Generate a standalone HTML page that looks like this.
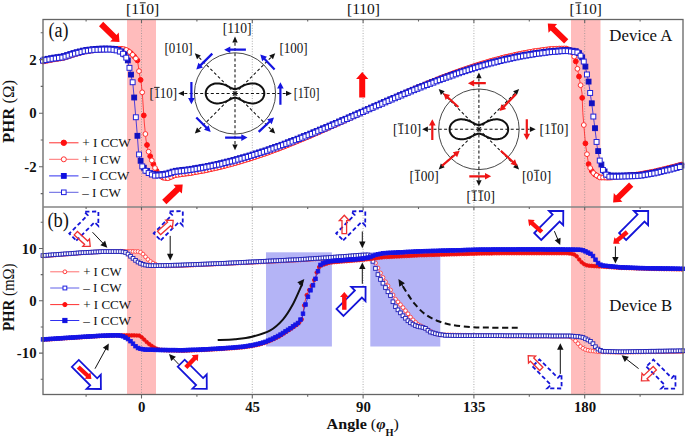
<!DOCTYPE html>
<html><head><meta charset="utf-8"><style>html,body{margin:0;padding:0;background:#fff;overflow:hidden}svg{display:block}text{font-family:"Liberation Serif",serif}</style></head>
<body><svg width="685" height="438" viewBox="0 0 685 438">
<rect x="0" y="0" width="685" height="438" fill="#fff"/>
<rect x="127" y="20" width="29" height="374" fill="#ffbcbc"/>
<rect x="571" y="20" width="29.5" height="374" fill="#ffbcbc"/>
<rect x="266" y="252.3" width="65.9" height="94.2" fill="#b4b4f6"/>
<rect x="370.3" y="252.3" width="70" height="94.2" fill="#b4b4f6"/>
<line x1="141.5" y1="20" x2="141.5" y2="394" stroke="#8a8a8a" stroke-width="0.7" stroke-dasharray="1,1.6"/>
<line x1="252.3" y1="20" x2="252.3" y2="394" stroke="#8a8a8a" stroke-width="0.7" stroke-dasharray="1,1.6"/>
<line x1="363.1" y1="20" x2="363.1" y2="394" stroke="#8a8a8a" stroke-width="0.7" stroke-dasharray="1,1.6"/>
<line x1="473.9" y1="20" x2="473.9" y2="394" stroke="#8a8a8a" stroke-width="0.7" stroke-dasharray="1,1.6"/>
<line x1="584.7" y1="20" x2="584.7" y2="394" stroke="#8a8a8a" stroke-width="0.7" stroke-dasharray="1,1.6"/>
<polyline points="43,61.5 53,59.5 63,58 74,54.4 85,51.5 95,50 105,49.3 111,49 120,48.8 124,49.2 127,50.2 130.4,52.6 134.4,56.6 137.6,60.6 139.2,72.6 141.2,83 142.4,94.1 144.3,123 146,140 148,150 151,158.5 155,168 158,173.5 162.5,177.5 168,178.2 175,175.1 190,173.1 205,170.4 220,167.1 235,163.1 250,158.6 265,153.6 280,148.1 295,142.1 310,135.9 325,129.3 340,122.6 355,115.7 370,108.8 385,102 400,95.2 415,88.7 430,82.4 445,76.4 460,70.9 475,65.8 490,61.2 505,57.2 520,53.9 535,51.1 550,49.1 560,48.6 566,48.5 570,50 573,53 576,62 579.2,77.5 582,93 582.8,112.5 583.8,125 585.5,144.5 588.5,163.9 591,170 594.2,174 600,177.5 610,177.6 620,176.3 630,175.3 640,174.2 655,171.3 670,167.7 683,164.2" fill="none" stroke="#ff2020" stroke-width="0.8"/><g fill="#ff1010" stroke="#ff1010" stroke-width="1.0"><circle cx="44.6" cy="61.2" r="2.4"/><circle cx="47.8" cy="60.5" r="2.4"/><circle cx="51" cy="59.9" r="2.4"/><circle cx="54.2" cy="59.3" r="2.4"/><circle cx="57.4" cy="58.8" r="2.4"/><circle cx="60.6" cy="58.4" r="2.4"/><circle cx="63.8" cy="57.7" r="2.4"/><circle cx="67" cy="56.7" r="2.4"/><circle cx="70.2" cy="55.6" r="2.4"/><circle cx="73.4" cy="54.6" r="2.4"/><circle cx="76.6" cy="53.7" r="2.4"/><circle cx="79.8" cy="52.9" r="2.4"/><circle cx="83" cy="52" r="2.4"/><circle cx="86.2" cy="51.3" r="2.4"/><circle cx="89.4" cy="50.8" r="2.4"/><circle cx="92.6" cy="50.4" r="2.4"/><circle cx="95.8" cy="49.9" r="2.4"/><circle cx="99" cy="49.7" r="2.4"/><circle cx="102.2" cy="49.5" r="2.4"/><circle cx="105.4" cy="49.3" r="2.4"/><circle cx="108.6" cy="49.1" r="2.4"/><circle cx="111.8" cy="49" r="2.4"/><circle cx="115" cy="48.9" r="2.4"/><circle cx="118.2" cy="48.8" r="2.4"/><circle cx="121.4" cy="48.9" r="2.4"/><circle cx="124.6" cy="49.4" r="2.4"/><circle cx="127.8" cy="50.8" r="2.4"/><circle cx="131" cy="53.2" r="2.4"/><circle cx="134.2" cy="56.4" r="2.4"/><circle cx="137.4" cy="60.4" r="2.4"/><circle cx="140.6" cy="79.9" r="2.4"/><circle cx="143.8" cy="115.4" r="2.4"/><circle cx="147" cy="145" r="2.4"/><circle cx="150.2" cy="156.2" r="2.4"/><circle cx="153.4" cy="164.2" r="2.4"/><circle cx="156.6" cy="170.9" r="2.4"/><circle cx="159.8" cy="175.1" r="2.4"/><circle cx="163" cy="177.6" r="2.4"/><circle cx="166.2" cy="178" r="2.4"/><circle cx="169.4" cy="177.6" r="2.4"/><circle cx="172.6" cy="176.2" r="2.4"/><circle cx="175.8" cy="175" r="2.4"/><circle cx="179" cy="174.6" r="2.4"/><circle cx="182.2" cy="174.1" r="2.4"/><circle cx="185.4" cy="173.7" r="2.4"/><circle cx="188.6" cy="173.3" r="2.4"/><circle cx="191.8" cy="172.8" r="2.4"/><circle cx="195" cy="172.2" r="2.4"/><circle cx="198.2" cy="171.6" r="2.4"/><circle cx="201.4" cy="171" r="2.4"/><circle cx="204.6" cy="170.5" r="2.4"/><circle cx="207.8" cy="169.8" r="2.4"/><circle cx="211" cy="169.1" r="2.4"/><circle cx="214.2" cy="168.4" r="2.4"/><circle cx="217.4" cy="167.7" r="2.4"/><circle cx="220.6" cy="166.9" r="2.4"/><circle cx="223.8" cy="166.1" r="2.4"/><circle cx="227" cy="165.2" r="2.4"/><circle cx="230.2" cy="164.4" r="2.4"/><circle cx="233.4" cy="163.5" r="2.4"/><circle cx="236.6" cy="162.6" r="2.4"/><circle cx="239.8" cy="161.7" r="2.4"/><circle cx="243" cy="160.7" r="2.4"/><circle cx="246.2" cy="159.7" r="2.4"/><circle cx="249.4" cy="158.8" r="2.4"/><circle cx="252.6" cy="157.7" r="2.4"/><circle cx="255.8" cy="156.7" r="2.4"/><circle cx="259" cy="155.6" r="2.4"/><circle cx="262.2" cy="154.5" r="2.4"/><circle cx="265.4" cy="153.5" r="2.4"/><circle cx="268.6" cy="152.3" r="2.4"/><circle cx="271.8" cy="151.1" r="2.4"/><circle cx="275" cy="149.9" r="2.4"/><circle cx="278.2" cy="148.8" r="2.4"/><circle cx="281.4" cy="147.5" r="2.4"/><circle cx="284.6" cy="146.3" r="2.4"/><circle cx="287.8" cy="145" r="2.4"/><circle cx="291" cy="143.7" r="2.4"/><circle cx="294.2" cy="142.4" r="2.4"/><circle cx="297.4" cy="141.1" r="2.4"/><circle cx="300.6" cy="139.8" r="2.4"/><circle cx="303.8" cy="138.5" r="2.4"/><circle cx="307" cy="137.1" r="2.4"/><circle cx="310.2" cy="135.8" r="2.4"/><circle cx="313.4" cy="134.4" r="2.4"/><circle cx="316.6" cy="133" r="2.4"/><circle cx="319.8" cy="131.6" r="2.4"/><circle cx="323" cy="130.2" r="2.4"/><circle cx="326.2" cy="128.8" r="2.4"/><circle cx="329.4" cy="127.3" r="2.4"/><circle cx="332.6" cy="125.9" r="2.4"/><circle cx="335.8" cy="124.5" r="2.4"/><circle cx="339" cy="123" r="2.4"/><circle cx="342.2" cy="121.6" r="2.4"/><circle cx="345.4" cy="120.1" r="2.4"/><circle cx="348.6" cy="118.6" r="2.4"/><circle cx="351.8" cy="117.2" r="2.4"/><circle cx="355" cy="115.7" r="2.4"/><circle cx="358.2" cy="114.2" r="2.4"/><circle cx="361.4" cy="112.8" r="2.4"/><circle cx="364.6" cy="111.3" r="2.4"/><circle cx="367.8" cy="109.8" r="2.4"/><circle cx="371" cy="108.3" r="2.4"/><circle cx="374.2" cy="106.9" r="2.4"/><circle cx="377.4" cy="105.4" r="2.4"/><circle cx="380.6" cy="104" r="2.4"/><circle cx="383.8" cy="102.5" r="2.4"/><circle cx="387" cy="101.1" r="2.4"/><circle cx="390.2" cy="99.6" r="2.4"/><circle cx="393.4" cy="98.2" r="2.4"/><circle cx="396.6" cy="96.7" r="2.4"/><circle cx="399.8" cy="95.3" r="2.4"/><circle cx="403" cy="93.9" r="2.4"/><circle cx="406.2" cy="92.5" r="2.4"/><circle cx="409.4" cy="91.1" r="2.4"/><circle cx="412.6" cy="89.7" r="2.4"/><circle cx="415.8" cy="88.4" r="2.4"/><circle cx="419" cy="87" r="2.4"/><circle cx="422.2" cy="85.7" r="2.4"/><circle cx="425.4" cy="84.3" r="2.4"/><circle cx="428.6" cy="83" r="2.4"/><circle cx="431.8" cy="81.7" r="2.4"/><circle cx="435" cy="80.4" r="2.4"/><circle cx="438.2" cy="79.1" r="2.4"/><circle cx="441.4" cy="77.8" r="2.4"/><circle cx="444.6" cy="76.6" r="2.4"/><circle cx="447.8" cy="75.4" r="2.4"/><circle cx="451" cy="74.2" r="2.4"/><circle cx="454.2" cy="73" r="2.4"/><circle cx="457.4" cy="71.9" r="2.4"/><circle cx="460.6" cy="70.7" r="2.4"/><circle cx="463.8" cy="69.6" r="2.4"/><circle cx="467" cy="68.5" r="2.4"/><circle cx="470.2" cy="67.4" r="2.4"/><circle cx="473.4" cy="66.3" r="2.4"/><circle cx="476.6" cy="65.3" r="2.4"/><circle cx="479.8" cy="64.3" r="2.4"/><circle cx="483" cy="63.3" r="2.4"/><circle cx="486.2" cy="62.4" r="2.4"/><circle cx="489.4" cy="61.4" r="2.4"/><circle cx="492.6" cy="60.5" r="2.4"/><circle cx="495.8" cy="59.7" r="2.4"/><circle cx="499" cy="58.8" r="2.4"/><circle cx="502.2" cy="57.9" r="2.4"/><circle cx="505.4" cy="57.1" r="2.4"/><circle cx="508.6" cy="56.4" r="2.4"/><circle cx="511.8" cy="55.7" r="2.4"/><circle cx="515" cy="55" r="2.4"/><circle cx="518.2" cy="54.3" r="2.4"/><circle cx="521.4" cy="53.6" r="2.4"/><circle cx="524.6" cy="53" r="2.4"/><circle cx="527.8" cy="52.4" r="2.4"/><circle cx="531" cy="51.8" r="2.4"/><circle cx="534.2" cy="51.2" r="2.4"/><circle cx="537.4" cy="50.8" r="2.4"/><circle cx="540.6" cy="50.4" r="2.4"/><circle cx="543.8" cy="49.9" r="2.4"/><circle cx="547" cy="49.5" r="2.4"/><circle cx="550.2" cy="49.1" r="2.4"/><circle cx="553.4" cy="48.9" r="2.4"/><circle cx="556.6" cy="48.8" r="2.4"/><circle cx="559.8" cy="48.6" r="2.4"/><circle cx="563" cy="48.6" r="2.4"/><circle cx="566.2" cy="48.6" r="2.4"/><circle cx="569.4" cy="49.8" r="2.4"/><circle cx="572.6" cy="52.6" r="2.4"/><circle cx="575.8" cy="61.4" r="2.4"/><circle cx="579" cy="76.5" r="2.4"/><circle cx="582.2" cy="97.9" r="2.4"/><circle cx="585.4" cy="143.4" r="2.4"/><circle cx="588.6" cy="164.1" r="2.4"/><circle cx="591.8" cy="171" r="2.4"/><circle cx="595" cy="174.5" r="2.4"/><circle cx="598.2" cy="176.4" r="2.4"/><circle cx="601.4" cy="177.5" r="2.4"/><circle cx="604.6" cy="177.5" r="2.4"/><circle cx="607.8" cy="177.6" r="2.4"/><circle cx="611" cy="177.5" r="2.4"/><circle cx="614.2" cy="177.1" r="2.4"/><circle cx="617.4" cy="176.6" r="2.4"/><circle cx="620.6" cy="176.2" r="2.4"/><circle cx="623.8" cy="175.9" r="2.4"/><circle cx="627" cy="175.6" r="2.4"/><circle cx="630.2" cy="175.3" r="2.4"/><circle cx="633.4" cy="174.9" r="2.4"/><circle cx="636.6" cy="174.6" r="2.4"/><circle cx="639.8" cy="174.2" r="2.4"/><circle cx="643" cy="173.6" r="2.4"/><circle cx="646.2" cy="173" r="2.4"/><circle cx="649.4" cy="172.4" r="2.4"/><circle cx="652.6" cy="171.8" r="2.4"/><circle cx="655.8" cy="171.1" r="2.4"/><circle cx="659" cy="170.3" r="2.4"/><circle cx="662.2" cy="169.6" r="2.4"/><circle cx="665.4" cy="168.8" r="2.4"/><circle cx="668.6" cy="168" r="2.4"/><circle cx="671.8" cy="167.2" r="2.4"/><circle cx="675" cy="166.4" r="2.4"/><circle cx="678.2" cy="165.5" r="2.4"/><circle cx="681.4" cy="164.6" r="2.4"/></g>
<g fill="#fff" stroke="#ff3030" stroke-width="1.0"><circle cx="43" cy="61.5" r="2.4"/><circle cx="46.2" cy="60.9" r="2.4"/><circle cx="49.4" cy="60.2" r="2.4"/><circle cx="52.6" cy="59.6" r="2.4"/><circle cx="55.8" cy="59.1" r="2.4"/><circle cx="59" cy="58.6" r="2.4"/><circle cx="62.2" cy="58.1" r="2.4"/><circle cx="65.4" cy="57.2" r="2.4"/><circle cx="68.6" cy="56.2" r="2.4"/><circle cx="71.8" cy="55.1" r="2.4"/><circle cx="75" cy="54.1" r="2.4"/><circle cx="78.2" cy="53.3" r="2.4"/><circle cx="81.4" cy="52.4" r="2.4"/><circle cx="84.6" cy="51.6" r="2.4"/><circle cx="87.8" cy="51.1" r="2.4"/><circle cx="91" cy="50.6" r="2.4"/><circle cx="94.2" cy="50.1" r="2.4"/><circle cx="97.4" cy="49.8" r="2.4"/><circle cx="100.6" cy="49.6" r="2.4"/><circle cx="103.8" cy="49.4" r="2.4"/><circle cx="107" cy="49.2" r="2.4"/><circle cx="110.2" cy="49" r="2.4"/><circle cx="113.4" cy="48.9" r="2.4"/><circle cx="116.6" cy="48.9" r="2.4"/><circle cx="119.8" cy="48.8" r="2.4"/><circle cx="123" cy="49.1" r="2.4"/><circle cx="126.2" cy="49.9" r="2.4"/><circle cx="129.4" cy="51.9" r="2.4"/><circle cx="132.6" cy="54.8" r="2.4"/><circle cx="135.8" cy="58.4" r="2.4"/><circle cx="139" cy="71.1" r="2.4"/><circle cx="142.2" cy="92.3" r="2.4"/><circle cx="145.4" cy="134" r="2.4"/><circle cx="148.6" cy="151.7" r="2.4"/><circle cx="151.8" cy="160.4" r="2.4"/><circle cx="155" cy="168" r="2.4"/><circle cx="158.2" cy="173.7" r="2.4"/><circle cx="161.4" cy="176.5" r="2.4"/><circle cx="164.6" cy="177.8" r="2.4"/><circle cx="167.8" cy="178.2" r="2.4"/><circle cx="171" cy="176.9" r="2.4"/><circle cx="174.2" cy="175.5" r="2.4"/><circle cx="177.4" cy="174.8" r="2.4"/><circle cx="180.6" cy="174.4" r="2.4"/><circle cx="183.8" cy="173.9" r="2.4"/><circle cx="187" cy="173.5" r="2.4"/><circle cx="190.2" cy="173.1" r="2.4"/><circle cx="193.4" cy="172.5" r="2.4"/><circle cx="196.6" cy="171.9" r="2.4"/><circle cx="199.8" cy="171.3" r="2.4"/><circle cx="203" cy="170.8" r="2.4"/><circle cx="206.2" cy="170.1" r="2.4"/><circle cx="209.4" cy="169.4" r="2.4"/><circle cx="212.6" cy="168.7" r="2.4"/><circle cx="215.8" cy="168" r="2.4"/><circle cx="219" cy="167.3" r="2.4"/><circle cx="222.2" cy="166.5" r="2.4"/><circle cx="225.4" cy="165.7" r="2.4"/><circle cx="228.6" cy="164.8" r="2.4"/><circle cx="231.8" cy="164" r="2.4"/><circle cx="235" cy="163.1" r="2.4"/><circle cx="238.2" cy="162.1" r="2.4"/><circle cx="241.4" cy="161.2" r="2.4"/><circle cx="244.6" cy="160.2" r="2.4"/><circle cx="247.8" cy="159.3" r="2.4"/><circle cx="251" cy="158.3" r="2.4"/><circle cx="254.2" cy="157.2" r="2.4"/><circle cx="257.4" cy="156.1" r="2.4"/><circle cx="260.6" cy="155.1" r="2.4"/><circle cx="263.8" cy="154" r="2.4"/><circle cx="267" cy="152.9" r="2.4"/><circle cx="270.2" cy="151.7" r="2.4"/><circle cx="273.4" cy="150.5" r="2.4"/><circle cx="276.6" cy="149.3" r="2.4"/><circle cx="279.8" cy="148.2" r="2.4"/><circle cx="283" cy="146.9" r="2.4"/><circle cx="286.2" cy="145.6" r="2.4"/><circle cx="289.4" cy="144.3" r="2.4"/><circle cx="292.6" cy="143.1" r="2.4"/><circle cx="295.8" cy="141.8" r="2.4"/><circle cx="299" cy="140.4" r="2.4"/><circle cx="302.2" cy="139.1" r="2.4"/><circle cx="305.4" cy="137.8" r="2.4"/><circle cx="308.6" cy="136.5" r="2.4"/><circle cx="311.8" cy="135.1" r="2.4"/><circle cx="315" cy="133.7" r="2.4"/><circle cx="318.2" cy="132.3" r="2.4"/><circle cx="321.4" cy="130.9" r="2.4"/><circle cx="324.6" cy="129.5" r="2.4"/><circle cx="327.8" cy="128" r="2.4"/><circle cx="331" cy="126.6" r="2.4"/><circle cx="334.2" cy="125.2" r="2.4"/><circle cx="337.4" cy="123.8" r="2.4"/><circle cx="340.6" cy="122.3" r="2.4"/><circle cx="343.8" cy="120.9" r="2.4"/><circle cx="347" cy="119.4" r="2.4"/><circle cx="350.2" cy="117.9" r="2.4"/><circle cx="353.4" cy="116.4" r="2.4"/><circle cx="356.6" cy="115" r="2.4"/><circle cx="359.8" cy="113.5" r="2.4"/><circle cx="363" cy="112" r="2.4"/><circle cx="366.2" cy="110.5" r="2.4"/><circle cx="369.4" cy="109.1" r="2.4"/><circle cx="372.6" cy="107.6" r="2.4"/><circle cx="375.8" cy="106.2" r="2.4"/><circle cx="379" cy="104.7" r="2.4"/><circle cx="382.2" cy="103.3" r="2.4"/><circle cx="385.4" cy="101.8" r="2.4"/><circle cx="388.6" cy="100.4" r="2.4"/><circle cx="391.8" cy="98.9" r="2.4"/><circle cx="395" cy="97.5" r="2.4"/><circle cx="398.2" cy="96" r="2.4"/><circle cx="401.4" cy="94.6" r="2.4"/><circle cx="404.6" cy="93.2" r="2.4"/><circle cx="407.8" cy="91.8" r="2.4"/><circle cx="411" cy="90.4" r="2.4"/><circle cx="414.2" cy="89" r="2.4"/><circle cx="417.4" cy="87.7" r="2.4"/><circle cx="420.6" cy="86.3" r="2.4"/><circle cx="423.8" cy="85" r="2.4"/><circle cx="427" cy="83.7" r="2.4"/><circle cx="430.2" cy="82.3" r="2.4"/><circle cx="433.4" cy="81" r="2.4"/><circle cx="436.6" cy="79.8" r="2.4"/><circle cx="439.8" cy="78.5" r="2.4"/><circle cx="443" cy="77.2" r="2.4"/><circle cx="446.2" cy="76" r="2.4"/><circle cx="449.4" cy="74.8" r="2.4"/><circle cx="452.6" cy="73.6" r="2.4"/><circle cx="455.8" cy="72.4" r="2.4"/><circle cx="459" cy="71.3" r="2.4"/><circle cx="462.2" cy="70.2" r="2.4"/><circle cx="465.4" cy="69.1" r="2.4"/><circle cx="468.6" cy="68" r="2.4"/><circle cx="471.8" cy="66.9" r="2.4"/><circle cx="475" cy="65.8" r="2.4"/><circle cx="478.2" cy="64.8" r="2.4"/><circle cx="481.4" cy="63.8" r="2.4"/><circle cx="484.6" cy="62.9" r="2.4"/><circle cx="487.8" cy="61.9" r="2.4"/><circle cx="491" cy="60.9" r="2.4"/><circle cx="494.2" cy="60.1" r="2.4"/><circle cx="497.4" cy="59.2" r="2.4"/><circle cx="500.6" cy="58.4" r="2.4"/><circle cx="503.8" cy="57.5" r="2.4"/><circle cx="507" cy="56.8" r="2.4"/><circle cx="510.2" cy="56.1" r="2.4"/><circle cx="513.4" cy="55.4" r="2.4"/><circle cx="516.6" cy="54.6" r="2.4"/><circle cx="519.8" cy="53.9" r="2.4"/><circle cx="523" cy="53.3" r="2.4"/><circle cx="526.2" cy="52.7" r="2.4"/><circle cx="529.4" cy="52.1" r="2.4"/><circle cx="532.6" cy="51.5" r="2.4"/><circle cx="535.8" cy="51" r="2.4"/><circle cx="539" cy="50.6" r="2.4"/><circle cx="542.2" cy="50.1" r="2.4"/><circle cx="545.4" cy="49.7" r="2.4"/><circle cx="548.6" cy="49.3" r="2.4"/><circle cx="551.8" cy="49" r="2.4"/><circle cx="555" cy="48.9" r="2.4"/><circle cx="558.2" cy="48.7" r="2.4"/><circle cx="561.4" cy="48.6" r="2.4"/><circle cx="564.6" cy="48.5" r="2.4"/><circle cx="567.8" cy="49.2" r="2.4"/><circle cx="571" cy="51" r="2.4"/><circle cx="574.2" cy="56.6" r="2.4"/><circle cx="577.4" cy="68.8" r="2.4"/><circle cx="580.6" cy="85.2" r="2.4"/><circle cx="583.8" cy="125" r="2.4"/><circle cx="587" cy="154.2" r="2.4"/><circle cx="590.2" cy="168" r="2.4"/><circle cx="593.4" cy="173" r="2.4"/><circle cx="596.6" cy="175.4" r="2.4"/><circle cx="599.8" cy="177.4" r="2.4"/><circle cx="603" cy="177.5" r="2.4"/><circle cx="606.2" cy="177.6" r="2.4"/><circle cx="609.4" cy="177.6" r="2.4"/><circle cx="612.6" cy="177.3" r="2.4"/><circle cx="615.8" cy="176.8" r="2.4"/><circle cx="619" cy="176.4" r="2.4"/><circle cx="622.2" cy="176.1" r="2.4"/><circle cx="625.4" cy="175.8" r="2.4"/><circle cx="628.6" cy="175.4" r="2.4"/><circle cx="631.8" cy="175.1" r="2.4"/><circle cx="635" cy="174.8" r="2.4"/><circle cx="638.2" cy="174.4" r="2.4"/><circle cx="641.4" cy="173.9" r="2.4"/><circle cx="644.6" cy="173.3" r="2.4"/><circle cx="647.8" cy="172.7" r="2.4"/><circle cx="651" cy="172.1" r="2.4"/><circle cx="654.2" cy="171.5" r="2.4"/><circle cx="657.4" cy="170.7" r="2.4"/><circle cx="660.6" cy="170" r="2.4"/><circle cx="663.8" cy="169.2" r="2.4"/><circle cx="667" cy="168.4" r="2.4"/><circle cx="670.2" cy="167.6" r="2.4"/><circle cx="673.4" cy="166.8" r="2.4"/><circle cx="676.6" cy="165.9" r="2.4"/><circle cx="679.8" cy="165.1" r="2.4"/></g>
<polyline points="43,60.7 53,58.8 63,57.4 74,53.9 85,51.1 95,49.9 105,49.5 111,49.6 115,50 118,50.8 120,51.6 122,52.8 124,54.6 127.2,59 129.6,68.6 131.2,76.6 132.8,83 133.9,95 135,108 136.3,123 137.5,138 138.5,151.7 140,160 142,166 145,170.5 150,174 155,175.6 160,175.4 167,174.4 175,171.9 190,170.1 205,167.5 220,164.4 235,160.6 250,156.3 265,151.5 280,146.3 295,140.6 310,134.7 325,128.5 340,122.1 355,115.6 370,109 385,102.5 400,96.1 415,89.8 430,83.9 445,78.2 460,72.9 475,68.1 490,63.7 505,60 520,56.7 535,54.2 550,52.2 565,51 568,51.2 572,51.6 577.4,52.5 581,56 584,62 586,70 587.8,78 589.3,86.6 592,105.7 594.2,122.8 597.2,146.8 600,161.6 603,170 606,174.5 609,176.6 620,176.6 630,176.3 640,175.9 655,173.3 670,169.7 683,166.2" fill="none" stroke="#2020e0" stroke-width="0.8"/><g fill="#1010c0" stroke="#1010c0" stroke-width="1.0"><rect x="42.2" y="57" width="4.8" height="4.8"/><rect x="45.4" y="56.4" width="4.8" height="4.8"/><rect x="48.6" y="55.8" width="4.8" height="4.8"/><rect x="51.8" y="55.2" width="4.8" height="4.8"/><rect x="55" y="54.8" width="4.8" height="4.8"/><rect x="58.2" y="54.3" width="4.8" height="4.8"/><rect x="61.4" y="53.7" width="4.8" height="4.8"/><rect x="64.6" y="52.7" width="4.8" height="4.8"/><rect x="67.8" y="51.7" width="4.8" height="4.8"/><rect x="71" y="50.7" width="4.8" height="4.8"/><rect x="74.2" y="49.8" width="4.8" height="4.8"/><rect x="77.4" y="49" width="4.8" height="4.8"/><rect x="80.6" y="48.2" width="4.8" height="4.8"/><rect x="83.8" y="47.6" width="4.8" height="4.8"/><rect x="87" y="47.2" width="4.8" height="4.8"/><rect x="90.2" y="46.8" width="4.8" height="4.8"/><rect x="93.4" y="46.5" width="4.8" height="4.8"/><rect x="96.6" y="46.3" width="4.8" height="4.8"/><rect x="99.8" y="46.2" width="4.8" height="4.8"/><rect x="103" y="46.1" width="4.8" height="4.8"/><rect x="106.2" y="46.2" width="4.8" height="4.8"/><rect x="109.4" y="46.3" width="4.8" height="4.8"/><rect x="112.6" y="46.6" width="4.8" height="4.8"/><rect x="115.8" y="47.5" width="4.8" height="4.8"/><rect x="119" y="49" width="4.8" height="4.8"/><rect x="122.2" y="52" width="4.8" height="4.8"/><rect x="125.4" y="58" width="4.8" height="4.8"/><rect x="128.6" y="72.2" width="4.8" height="4.8"/><rect x="131.8" y="95.1" width="4.8" height="4.8"/><rect x="135" y="133.4" width="4.8" height="4.8"/><rect x="138.2" y="158.4" width="4.8" height="4.8"/><rect x="141.4" y="165.3" width="4.8" height="4.8"/><rect x="144.6" y="168.5" width="4.8" height="4.8"/><rect x="147.8" y="170.7" width="4.8" height="4.8"/><rect x="151" y="171.7" width="4.8" height="4.8"/><rect x="154.2" y="172.1" width="4.8" height="4.8"/><rect x="157.4" y="172" width="4.8" height="4.8"/><rect x="160.6" y="171.6" width="4.8" height="4.8"/><rect x="163.8" y="171.1" width="4.8" height="4.8"/><rect x="167" y="170.2" width="4.8" height="4.8"/><rect x="170.2" y="169.2" width="4.8" height="4.8"/><rect x="173.4" y="168.4" width="4.8" height="4.8"/><rect x="176.6" y="168" width="4.8" height="4.8"/><rect x="179.8" y="167.6" width="4.8" height="4.8"/><rect x="183" y="167.3" width="4.8" height="4.8"/><rect x="186.2" y="166.9" width="4.8" height="4.8"/><rect x="189.4" y="166.4" width="4.8" height="4.8"/><rect x="192.6" y="165.8" width="4.8" height="4.8"/><rect x="195.8" y="165.3" width="4.8" height="4.8"/><rect x="199" y="164.7" width="4.8" height="4.8"/><rect x="202.2" y="164.2" width="4.8" height="4.8"/><rect x="205.4" y="163.5" width="4.8" height="4.8"/><rect x="208.6" y="162.9" width="4.8" height="4.8"/><rect x="211.8" y="162.2" width="4.8" height="4.8"/><rect x="215" y="161.5" width="4.8" height="4.8"/><rect x="218.2" y="160.8" width="4.8" height="4.8"/><rect x="221.4" y="160" width="4.8" height="4.8"/><rect x="224.6" y="159.2" width="4.8" height="4.8"/><rect x="227.8" y="158.4" width="4.8" height="4.8"/><rect x="231" y="157.6" width="4.8" height="4.8"/><rect x="234.2" y="156.7" width="4.8" height="4.8"/><rect x="237.4" y="155.8" width="4.8" height="4.8"/><rect x="240.6" y="154.9" width="4.8" height="4.8"/><rect x="243.8" y="154" width="4.8" height="4.8"/><rect x="247" y="153.1" width="4.8" height="4.8"/><rect x="250.2" y="152.1" width="4.8" height="4.8"/><rect x="253.4" y="151" width="4.8" height="4.8"/><rect x="256.6" y="150" width="4.8" height="4.8"/><rect x="259.8" y="149" width="4.8" height="4.8"/><rect x="263" y="148" width="4.8" height="4.8"/><rect x="266.2" y="146.9" width="4.8" height="4.8"/><rect x="269.4" y="145.7" width="4.8" height="4.8"/><rect x="272.6" y="144.6" width="4.8" height="4.8"/><rect x="275.8" y="143.5" width="4.8" height="4.8"/><rect x="279" y="142.4" width="4.8" height="4.8"/><rect x="282.2" y="141.2" width="4.8" height="4.8"/><rect x="285.4" y="139.9" width="4.8" height="4.8"/><rect x="288.6" y="138.7" width="4.8" height="4.8"/><rect x="291.8" y="137.5" width="4.8" height="4.8"/><rect x="295" y="136.3" width="4.8" height="4.8"/><rect x="298.2" y="135" width="4.8" height="4.8"/><rect x="301.4" y="133.7" width="4.8" height="4.8"/><rect x="304.6" y="132.5" width="4.8" height="4.8"/><rect x="307.8" y="131.2" width="4.8" height="4.8"/><rect x="311" y="129.9" width="4.8" height="4.8"/><rect x="314.2" y="128.6" width="4.8" height="4.8"/><rect x="317.4" y="127.2" width="4.8" height="4.8"/><rect x="320.6" y="125.9" width="4.8" height="4.8"/><rect x="323.8" y="124.6" width="4.8" height="4.8"/><rect x="327" y="123.2" width="4.8" height="4.8"/><rect x="330.2" y="121.9" width="4.8" height="4.8"/><rect x="333.4" y="120.5" width="4.8" height="4.8"/><rect x="336.6" y="119.1" width="4.8" height="4.8"/><rect x="339.8" y="117.7" width="4.8" height="4.8"/><rect x="343" y="116.4" width="4.8" height="4.8"/><rect x="346.2" y="115" width="4.8" height="4.8"/><rect x="349.4" y="113.6" width="4.8" height="4.8"/><rect x="352.6" y="112.2" width="4.8" height="4.8"/><rect x="355.8" y="110.8" width="4.8" height="4.8"/><rect x="359" y="109.4" width="4.8" height="4.8"/><rect x="362.2" y="108" width="4.8" height="4.8"/><rect x="365.4" y="106.6" width="4.8" height="4.8"/><rect x="368.6" y="105.2" width="4.8" height="4.8"/><rect x="371.8" y="103.8" width="4.8" height="4.8"/><rect x="375" y="102.4" width="4.8" height="4.8"/><rect x="378.2" y="101" width="4.8" height="4.8"/><rect x="381.4" y="99.6" width="4.8" height="4.8"/><rect x="384.6" y="98.2" width="4.8" height="4.8"/><rect x="387.8" y="96.9" width="4.8" height="4.8"/><rect x="391" y="95.5" width="4.8" height="4.8"/><rect x="394.2" y="94.2" width="4.8" height="4.8"/><rect x="397.4" y="92.8" width="4.8" height="4.8"/><rect x="400.6" y="91.4" width="4.8" height="4.8"/><rect x="403.8" y="90.1" width="4.8" height="4.8"/><rect x="407" y="88.8" width="4.8" height="4.8"/><rect x="410.2" y="87.4" width="4.8" height="4.8"/><rect x="413.4" y="86.1" width="4.8" height="4.8"/><rect x="416.6" y="84.8" width="4.8" height="4.8"/><rect x="419.8" y="83.6" width="4.8" height="4.8"/><rect x="423" y="82.3" width="4.8" height="4.8"/><rect x="426.2" y="81.1" width="4.8" height="4.8"/><rect x="429.4" y="79.8" width="4.8" height="4.8"/><rect x="432.6" y="78.6" width="4.8" height="4.8"/><rect x="435.8" y="77.4" width="4.8" height="4.8"/><rect x="439" y="76.2" width="4.8" height="4.8"/><rect x="442.2" y="75" width="4.8" height="4.8"/><rect x="445.4" y="73.8" width="4.8" height="4.8"/><rect x="448.6" y="72.7" width="4.8" height="4.8"/><rect x="451.8" y="71.5" width="4.8" height="4.8"/><rect x="455" y="70.4" width="4.8" height="4.8"/><rect x="458.2" y="69.3" width="4.8" height="4.8"/><rect x="461.4" y="68.3" width="4.8" height="4.8"/><rect x="464.6" y="67.3" width="4.8" height="4.8"/><rect x="467.8" y="66.2" width="4.8" height="4.8"/><rect x="471" y="65.2" width="4.8" height="4.8"/><rect x="474.2" y="64.2" width="4.8" height="4.8"/><rect x="477.4" y="63.3" width="4.8" height="4.8"/><rect x="480.6" y="62.4" width="4.8" height="4.8"/><rect x="483.8" y="61.4" width="4.8" height="4.8"/><rect x="487" y="60.5" width="4.8" height="4.8"/><rect x="490.2" y="59.7" width="4.8" height="4.8"/><rect x="493.4" y="58.9" width="4.8" height="4.8"/><rect x="496.6" y="58.1" width="4.8" height="4.8"/><rect x="499.8" y="57.3" width="4.8" height="4.8"/><rect x="503" y="56.5" width="4.8" height="4.8"/><rect x="506.2" y="55.8" width="4.8" height="4.8"/><rect x="509.4" y="55.1" width="4.8" height="4.8"/><rect x="512.6" y="54.4" width="4.8" height="4.8"/><rect x="515.8" y="53.7" width="4.8" height="4.8"/><rect x="519" y="53.1" width="4.8" height="4.8"/><rect x="522.2" y="52.5" width="4.8" height="4.8"/><rect x="525.4" y="52" width="4.8" height="4.8"/><rect x="528.6" y="51.5" width="4.8" height="4.8"/><rect x="531.8" y="50.9" width="4.8" height="4.8"/><rect x="535" y="50.5" width="4.8" height="4.8"/><rect x="538.2" y="50.1" width="4.8" height="4.8"/><rect x="541.4" y="49.6" width="4.8" height="4.8"/><rect x="544.6" y="49.2" width="4.8" height="4.8"/><rect x="547.8" y="48.8" width="4.8" height="4.8"/><rect x="551" y="48.5" width="4.8" height="4.8"/><rect x="554.2" y="48.3" width="4.8" height="4.8"/><rect x="557.4" y="48" width="4.8" height="4.8"/><rect x="560.6" y="47.8" width="4.8" height="4.8"/><rect x="563.8" y="47.7" width="4.8" height="4.8"/><rect x="567" y="47.9" width="4.8" height="4.8"/><rect x="570.2" y="48.3" width="4.8" height="4.8"/><rect x="573.4" y="48.8" width="4.8" height="4.8"/><rect x="576.6" y="50.7" width="4.8" height="4.8"/><rect x="579.8" y="55" width="4.8" height="4.8"/><rect x="583" y="64.2" width="4.8" height="4.8"/><rect x="586.2" y="79.2" width="4.8" height="4.8"/><rect x="589.4" y="100.9" width="4.8" height="4.8"/><rect x="592.6" y="125.8" width="4.8" height="4.8"/><rect x="595.8" y="148.7" width="4.8" height="4.8"/><rect x="599" y="162.1" width="4.8" height="4.8"/><rect x="602.2" y="169" width="4.8" height="4.8"/><rect x="605.4" y="172.4" width="4.8" height="4.8"/><rect x="608.6" y="173.2" width="4.8" height="4.8"/><rect x="611.8" y="173.2" width="4.8" height="4.8"/><rect x="615" y="173.2" width="4.8" height="4.8"/><rect x="618.2" y="173.2" width="4.8" height="4.8"/><rect x="621.4" y="173.1" width="4.8" height="4.8"/><rect x="624.6" y="173" width="4.8" height="4.8"/><rect x="627.8" y="172.9" width="4.8" height="4.8"/><rect x="631" y="172.8" width="4.8" height="4.8"/><rect x="634.2" y="172.6" width="4.8" height="4.8"/><rect x="637.4" y="172.5" width="4.8" height="4.8"/><rect x="640.6" y="172" width="4.8" height="4.8"/><rect x="643.8" y="171.4" width="4.8" height="4.8"/><rect x="647" y="170.9" width="4.8" height="4.8"/><rect x="650.2" y="170.3" width="4.8" height="4.8"/><rect x="653.4" y="169.7" width="4.8" height="4.8"/><rect x="656.6" y="168.9" width="4.8" height="4.8"/><rect x="659.8" y="168.2" width="4.8" height="4.8"/><rect x="663" y="167.4" width="4.8" height="4.8"/><rect x="666.2" y="166.6" width="4.8" height="4.8"/><rect x="669.4" y="165.8" width="4.8" height="4.8"/><rect x="672.6" y="165" width="4.8" height="4.8"/><rect x="675.8" y="164.1" width="4.8" height="4.8"/><rect x="679" y="163.2" width="4.8" height="4.8"/></g>
<g fill="#fff" stroke="#2222d8" stroke-width="1.0"><rect x="40.5" y="58.2" width="4.9" height="4.9"/><rect x="43.8" y="57.6" width="4.9" height="4.9"/><rect x="46.9" y="57" width="4.9" height="4.9"/><rect x="50.1" y="56.4" width="4.9" height="4.9"/><rect x="53.3" y="56" width="4.9" height="4.9"/><rect x="56.5" y="55.5" width="4.9" height="4.9"/><rect x="59.8" y="55.1" width="4.9" height="4.9"/><rect x="63" y="54.2" width="4.9" height="4.9"/><rect x="66.1" y="53.2" width="4.9" height="4.9"/><rect x="69.3" y="52.1" width="4.9" height="4.9"/><rect x="72.5" y="51.2" width="4.9" height="4.9"/><rect x="75.7" y="50.4" width="4.9" height="4.9"/><rect x="79" y="49.6" width="4.9" height="4.9"/><rect x="82.1" y="48.8" width="4.9" height="4.9"/><rect x="85.4" y="48.3" width="4.9" height="4.9"/><rect x="88.5" y="47.9" width="4.9" height="4.9"/><rect x="91.8" y="47.5" width="4.9" height="4.9"/><rect x="95" y="47.4" width="4.9" height="4.9"/><rect x="98.2" y="47.2" width="4.9" height="4.9"/><rect x="101.4" y="47.1" width="4.9" height="4.9"/><rect x="104.6" y="47.1" width="4.9" height="4.9"/><rect x="107.8" y="47.1" width="4.9" height="4.9"/><rect x="111" y="47.4" width="4.9" height="4.9"/><rect x="114.2" y="48" width="4.9" height="4.9"/><rect x="117.4" y="49.1" width="4.9" height="4.9"/><rect x="120.6" y="51.3" width="4.9" height="4.9"/><rect x="123.8" y="55.2" width="4.9" height="4.9"/><rect x="127" y="65.4" width="4.9" height="4.9"/><rect x="130.2" y="79.8" width="4.9" height="4.9"/><rect x="133.4" y="114.8" width="4.9" height="4.9"/><rect x="136.6" y="152" width="4.9" height="4.9"/><rect x="139.8" y="163.9" width="4.9" height="4.9"/><rect x="143" y="168.3" width="4.9" height="4.9"/><rect x="146.2" y="170.6" width="4.9" height="4.9"/><rect x="149.4" y="172.1" width="4.9" height="4.9"/><rect x="152.6" y="173.2" width="4.9" height="4.9"/><rect x="155.8" y="173" width="4.9" height="4.9"/><rect x="159" y="172.8" width="4.9" height="4.9"/><rect x="162.2" y="172.3" width="4.9" height="4.9"/><rect x="165.4" y="171.7" width="4.9" height="4.9"/><rect x="168.6" y="170.7" width="4.9" height="4.9"/><rect x="171.8" y="169.7" width="4.9" height="4.9"/><rect x="175" y="169.2" width="4.9" height="4.9"/><rect x="178.2" y="168.8" width="4.9" height="4.9"/><rect x="181.4" y="168.4" width="4.9" height="4.9"/><rect x="184.6" y="168" width="4.9" height="4.9"/><rect x="187.8" y="167.6" width="4.9" height="4.9"/><rect x="190.9" y="167.1" width="4.9" height="4.9"/><rect x="194.1" y="166.5" width="4.9" height="4.9"/><rect x="197.3" y="166" width="4.9" height="4.9"/><rect x="200.5" y="165.4" width="4.9" height="4.9"/><rect x="203.7" y="164.8" width="4.9" height="4.9"/><rect x="206.9" y="164.1" width="4.9" height="4.9"/><rect x="210.1" y="163.5" width="4.9" height="4.9"/><rect x="213.3" y="162.8" width="4.9" height="4.9"/><rect x="216.5" y="162.2" width="4.9" height="4.9"/><rect x="219.7" y="161.4" width="4.9" height="4.9"/><rect x="222.9" y="160.6" width="4.9" height="4.9"/><rect x="226.1" y="159.8" width="4.9" height="4.9"/><rect x="229.3" y="159" width="4.9" height="4.9"/><rect x="232.5" y="158.2" width="4.9" height="4.9"/><rect x="235.7" y="157.2" width="4.9" height="4.9"/><rect x="238.9" y="156.3" width="4.9" height="4.9"/><rect x="242.1" y="155.4" width="4.9" height="4.9"/><rect x="245.3" y="154.5" width="4.9" height="4.9"/><rect x="248.5" y="153.5" width="4.9" height="4.9"/><rect x="251.7" y="152.5" width="4.9" height="4.9"/><rect x="254.9" y="151.5" width="4.9" height="4.9"/><rect x="258.1" y="150.5" width="4.9" height="4.9"/><rect x="261.3" y="149.4" width="4.9" height="4.9"/><rect x="264.5" y="148.4" width="4.9" height="4.9"/><rect x="267.7" y="147.2" width="4.9" height="4.9"/><rect x="270.9" y="146.1" width="4.9" height="4.9"/><rect x="274.1" y="145" width="4.9" height="4.9"/><rect x="277.3" y="143.9" width="4.9" height="4.9"/><rect x="280.5" y="142.7" width="4.9" height="4.9"/><rect x="283.7" y="141.5" width="4.9" height="4.9"/><rect x="286.9" y="140.3" width="4.9" height="4.9"/><rect x="290.1" y="139.1" width="4.9" height="4.9"/><rect x="293.3" y="137.8" width="4.9" height="4.9"/><rect x="296.5" y="136.6" width="4.9" height="4.9"/><rect x="299.7" y="135.3" width="4.9" height="4.9"/><rect x="302.9" y="134.1" width="4.9" height="4.9"/><rect x="306.1" y="132.8" width="4.9" height="4.9"/><rect x="309.3" y="131.5" width="4.9" height="4.9"/><rect x="312.5" y="130.2" width="4.9" height="4.9"/><rect x="315.7" y="128.9" width="4.9" height="4.9"/><rect x="318.9" y="127.5" width="4.9" height="4.9"/><rect x="322.1" y="126.2" width="4.9" height="4.9"/><rect x="325.3" y="124.9" width="4.9" height="4.9"/><rect x="328.5" y="123.5" width="4.9" height="4.9"/><rect x="331.7" y="122.1" width="4.9" height="4.9"/><rect x="334.9" y="120.8" width="4.9" height="4.9"/><rect x="338.1" y="119.4" width="4.9" height="4.9"/><rect x="341.3" y="118" width="4.9" height="4.9"/><rect x="344.5" y="116.6" width="4.9" height="4.9"/><rect x="347.7" y="115.2" width="4.9" height="4.9"/><rect x="350.9" y="113.8" width="4.9" height="4.9"/><rect x="354.1" y="112.4" width="4.9" height="4.9"/><rect x="357.3" y="111" width="4.9" height="4.9"/><rect x="360.5" y="109.6" width="4.9" height="4.9"/><rect x="363.7" y="108.2" width="4.9" height="4.9"/><rect x="366.9" y="106.8" width="4.9" height="4.9"/><rect x="370.1" y="105.4" width="4.9" height="4.9"/><rect x="373.3" y="104" width="4.9" height="4.9"/><rect x="376.5" y="102.7" width="4.9" height="4.9"/><rect x="379.7" y="101.3" width="4.9" height="4.9"/><rect x="382.9" y="99.9" width="4.9" height="4.9"/><rect x="386.1" y="98.5" width="4.9" height="4.9"/><rect x="389.3" y="97.1" width="4.9" height="4.9"/><rect x="392.5" y="95.8" width="4.9" height="4.9"/><rect x="395.7" y="94.4" width="4.9" height="4.9"/><rect x="398.9" y="93.1" width="4.9" height="4.9"/><rect x="402.1" y="91.7" width="4.9" height="4.9"/><rect x="405.3" y="90.4" width="4.9" height="4.9"/><rect x="408.5" y="89" width="4.9" height="4.9"/><rect x="411.7" y="87.7" width="4.9" height="4.9"/><rect x="414.9" y="86.4" width="4.9" height="4.9"/><rect x="418.1" y="85.1" width="4.9" height="4.9"/><rect x="421.3" y="83.9" width="4.9" height="4.9"/><rect x="424.5" y="82.6" width="4.9" height="4.9"/><rect x="427.7" y="81.4" width="4.9" height="4.9"/><rect x="430.9" y="80.2" width="4.9" height="4.9"/><rect x="434.1" y="78.9" width="4.9" height="4.9"/><rect x="437.3" y="77.7" width="4.9" height="4.9"/><rect x="440.5" y="76.5" width="4.9" height="4.9"/><rect x="443.7" y="75.3" width="4.9" height="4.9"/><rect x="446.9" y="74.2" width="4.9" height="4.9"/><rect x="450.1" y="73.1" width="4.9" height="4.9"/><rect x="453.3" y="71.9" width="4.9" height="4.9"/><rect x="456.5" y="70.8" width="4.9" height="4.9"/><rect x="459.7" y="69.7" width="4.9" height="4.9"/><rect x="462.9" y="68.7" width="4.9" height="4.9"/><rect x="466.1" y="67.7" width="4.9" height="4.9"/><rect x="469.3" y="66.7" width="4.9" height="4.9"/><rect x="472.5" y="65.7" width="4.9" height="4.9"/><rect x="475.7" y="64.7" width="4.9" height="4.9"/><rect x="478.9" y="63.8" width="4.9" height="4.9"/><rect x="482.1" y="62.8" width="4.9" height="4.9"/><rect x="485.3" y="61.9" width="4.9" height="4.9"/><rect x="488.5" y="61" width="4.9" height="4.9"/><rect x="491.7" y="60.2" width="4.9" height="4.9"/><rect x="494.9" y="59.4" width="4.9" height="4.9"/><rect x="498.1" y="58.6" width="4.9" height="4.9"/><rect x="501.3" y="57.8" width="4.9" height="4.9"/><rect x="504.5" y="57.1" width="4.9" height="4.9"/><rect x="507.7" y="56.4" width="4.9" height="4.9"/><rect x="510.9" y="55.7" width="4.9" height="4.9"/><rect x="514.1" y="55" width="4.9" height="4.9"/><rect x="517.3" y="54.3" width="4.9" height="4.9"/><rect x="520.5" y="53.8" width="4.9" height="4.9"/><rect x="523.7" y="53.2" width="4.9" height="4.9"/><rect x="526.9" y="52.7" width="4.9" height="4.9"/><rect x="530.1" y="52.2" width="4.9" height="4.9"/><rect x="533.3" y="51.6" width="4.9" height="4.9"/><rect x="536.5" y="51.2" width="4.9" height="4.9"/><rect x="539.7" y="50.8" width="4.9" height="4.9"/><rect x="542.9" y="50.4" width="4.9" height="4.9"/><rect x="546.1" y="49.9" width="4.9" height="4.9"/><rect x="549.3" y="49.6" width="4.9" height="4.9"/><rect x="552.5" y="49.4" width="4.9" height="4.9"/><rect x="555.7" y="49.1" width="4.9" height="4.9"/><rect x="558.9" y="48.8" width="4.9" height="4.9"/><rect x="562.1" y="48.6" width="4.9" height="4.9"/><rect x="565.3" y="48.7" width="4.9" height="4.9"/><rect x="568.5" y="49" width="4.9" height="4.9"/><rect x="571.7" y="49.5" width="4.9" height="4.9"/><rect x="574.9" y="50" width="4.9" height="4.9"/><rect x="578.1" y="53.2" width="4.9" height="4.9"/><rect x="581.3" y="59.1" width="4.9" height="4.9"/><rect x="584.5" y="72" width="4.9" height="4.9"/><rect x="587.7" y="90.5" width="4.9" height="4.9"/><rect x="590.9" y="114.1" width="4.9" height="4.9"/><rect x="594.1" y="139.5" width="4.9" height="4.9"/><rect x="597.3" y="158.1" width="4.9" height="4.9"/><rect x="600.5" y="167.5" width="4.9" height="4.9"/><rect x="603.7" y="172.2" width="4.9" height="4.9"/><rect x="606.9" y="174.2" width="4.9" height="4.9"/><rect x="610.1" y="174.2" width="4.9" height="4.9"/><rect x="613.3" y="174.2" width="4.9" height="4.9"/><rect x="616.5" y="174.2" width="4.9" height="4.9"/><rect x="619.7" y="174.1" width="4.9" height="4.9"/><rect x="622.9" y="174" width="4.9" height="4.9"/><rect x="626.1" y="173.9" width="4.9" height="4.9"/><rect x="629.3" y="173.8" width="4.9" height="4.9"/><rect x="632.5" y="173.7" width="4.9" height="4.9"/><rect x="635.7" y="173.5" width="4.9" height="4.9"/><rect x="638.9" y="173.2" width="4.9" height="4.9"/><rect x="642.1" y="172.7" width="4.9" height="4.9"/><rect x="645.3" y="172.1" width="4.9" height="4.9"/><rect x="648.5" y="171.5" width="4.9" height="4.9"/><rect x="651.8" y="171" width="4.9" height="4.9"/><rect x="655" y="170.3" width="4.9" height="4.9"/><rect x="658.2" y="169.5" width="4.9" height="4.9"/><rect x="661.4" y="168.7" width="4.9" height="4.9"/><rect x="664.6" y="168" width="4.9" height="4.9"/><rect x="667.8" y="167.2" width="4.9" height="4.9"/><rect x="671" y="166.3" width="4.9" height="4.9"/><rect x="674.2" y="165.5" width="4.9" height="4.9"/><rect x="677.4" y="164.6" width="4.9" height="4.9"/></g>
<polyline points="43,256 60,254.6 80,253 104,251.5 120,251.3 139,251.5 142,253 146.2,257.6 149,260.5 152.3,262.7 157.4,265.3 165,266 183,265.5 250,262.5 300,260 360,256 369,255.5 372,257 375,262 378,268 381,274 385,281 390,289 394.8,298.4 399,303 403,307.6 407.2,312.8 412,319 418,324.5 425,328 432,332.5 440,334.8 505,336 568,336.2 571,337 573.3,338.5 577,342.5 581.2,347.3 585,349.5 589,350.6 600,351.8 620,352.3 650,351.8 683,351.5" fill="none" stroke="#ff8080" stroke-width="0.6"/><g fill="#fff" stroke="#ff4040" stroke-width="0.9"><circle cx="43" cy="256" r="1.9"/><circle cx="45.5" cy="255.8" r="1.9"/><circle cx="48" cy="255.6" r="1.9"/><circle cx="50.5" cy="255.4" r="1.9"/><circle cx="53" cy="255.2" r="1.9"/><circle cx="55.5" cy="255" r="1.9"/><circle cx="58" cy="254.8" r="1.9"/><circle cx="60.5" cy="254.6" r="1.9"/><circle cx="63" cy="254.4" r="1.9"/><circle cx="65.5" cy="254.2" r="1.9"/><circle cx="68" cy="254" r="1.9"/><circle cx="70.5" cy="253.8" r="1.9"/><circle cx="73" cy="253.6" r="1.9"/><circle cx="75.5" cy="253.4" r="1.9"/><circle cx="78" cy="253.2" r="1.9"/><circle cx="80.5" cy="253" r="1.9"/><circle cx="83" cy="252.8" r="1.9"/><circle cx="85.5" cy="252.7" r="1.9"/><circle cx="88" cy="252.5" r="1.9"/><circle cx="90.5" cy="252.3" r="1.9"/><circle cx="93" cy="252.2" r="1.9"/><circle cx="95.5" cy="252" r="1.9"/><circle cx="98" cy="251.9" r="1.9"/><circle cx="100.5" cy="251.7" r="1.9"/><circle cx="103" cy="251.6" r="1.9"/><circle cx="105.5" cy="251.5" r="1.9"/><circle cx="108" cy="251.4" r="1.9"/><circle cx="110.5" cy="251.4" r="1.9"/><circle cx="113" cy="251.4" r="1.9"/><circle cx="115.5" cy="251.4" r="1.9"/><circle cx="118" cy="251.3" r="1.9"/><circle cx="120.5" cy="251.3" r="1.9"/><circle cx="123" cy="251.3" r="1.9"/><circle cx="125.5" cy="251.4" r="1.9"/><circle cx="128" cy="251.4" r="1.9"/><circle cx="130.5" cy="251.4" r="1.9"/><circle cx="133" cy="251.4" r="1.9"/><circle cx="135.5" cy="251.5" r="1.9"/><circle cx="138" cy="251.5" r="1.9"/><circle cx="140.5" cy="252.2" r="1.9"/><circle cx="143" cy="254.1" r="1.9"/><circle cx="145.5" cy="256.8" r="1.9"/><circle cx="148" cy="259.5" r="1.9"/><circle cx="150.5" cy="261.5" r="1.9"/><circle cx="153" cy="263.1" r="1.9"/><circle cx="155.5" cy="264.3" r="1.9"/><circle cx="158" cy="265.4" r="1.9"/><circle cx="160.5" cy="265.6" r="1.9"/><circle cx="163" cy="265.8" r="1.9"/><circle cx="165.5" cy="266" r="1.9"/><circle cx="168" cy="265.9" r="1.9"/><circle cx="170.5" cy="265.8" r="1.9"/><circle cx="173" cy="265.8" r="1.9"/><circle cx="175.5" cy="265.7" r="1.9"/><circle cx="178" cy="265.6" r="1.9"/><circle cx="180.5" cy="265.6" r="1.9"/><circle cx="183" cy="265.5" r="1.9"/><circle cx="185.5" cy="265.4" r="1.9"/><circle cx="188" cy="265.3" r="1.9"/><circle cx="190.5" cy="265.2" r="1.9"/><circle cx="193" cy="265.1" r="1.9"/><circle cx="195.5" cy="264.9" r="1.9"/><circle cx="198" cy="264.8" r="1.9"/><circle cx="200.5" cy="264.7" r="1.9"/><circle cx="203" cy="264.6" r="1.9"/><circle cx="205.5" cy="264.5" r="1.9"/><circle cx="208" cy="264.4" r="1.9"/><circle cx="210.5" cy="264.3" r="1.9"/><circle cx="213" cy="264.2" r="1.9"/><circle cx="215.5" cy="264" r="1.9"/><circle cx="218" cy="263.9" r="1.9"/><circle cx="220.5" cy="263.8" r="1.9"/><circle cx="223" cy="263.7" r="1.9"/><circle cx="225.5" cy="263.6" r="1.9"/><circle cx="228" cy="263.5" r="1.9"/><circle cx="230.5" cy="263.4" r="1.9"/><circle cx="233" cy="263.3" r="1.9"/><circle cx="235.5" cy="263.1" r="1.9"/><circle cx="238" cy="263" r="1.9"/><circle cx="240.5" cy="262.9" r="1.9"/><circle cx="243" cy="262.8" r="1.9"/><circle cx="245.5" cy="262.7" r="1.9"/><circle cx="248" cy="262.6" r="1.9"/><circle cx="250.5" cy="262.5" r="1.9"/><circle cx="253" cy="262.4" r="1.9"/><circle cx="255.5" cy="262.2" r="1.9"/><circle cx="258" cy="262.1" r="1.9"/><circle cx="260.5" cy="262" r="1.9"/><circle cx="263" cy="261.9" r="1.9"/><circle cx="265.5" cy="261.7" r="1.9"/><circle cx="268" cy="261.6" r="1.9"/><circle cx="270.5" cy="261.5" r="1.9"/><circle cx="273" cy="261.4" r="1.9"/><circle cx="275.5" cy="261.2" r="1.9"/><circle cx="278" cy="261.1" r="1.9"/><circle cx="280.5" cy="261" r="1.9"/><circle cx="283" cy="260.9" r="1.9"/><circle cx="285.5" cy="260.7" r="1.9"/><circle cx="288" cy="260.6" r="1.9"/><circle cx="290.5" cy="260.5" r="1.9"/><circle cx="293" cy="260.4" r="1.9"/><circle cx="295.5" cy="260.2" r="1.9"/><circle cx="298" cy="260.1" r="1.9"/><circle cx="300.5" cy="260" r="1.9"/><circle cx="303" cy="259.8" r="1.9"/><circle cx="305.5" cy="259.6" r="1.9"/><circle cx="308" cy="259.5" r="1.9"/><circle cx="310.5" cy="259.3" r="1.9"/><circle cx="313" cy="259.1" r="1.9"/><circle cx="315.5" cy="259" r="1.9"/><circle cx="318" cy="258.8" r="1.9"/><circle cx="320.5" cy="258.6" r="1.9"/><circle cx="323" cy="258.5" r="1.9"/><circle cx="325.5" cy="258.3" r="1.9"/><circle cx="328" cy="258.1" r="1.9"/><circle cx="330.5" cy="258" r="1.9"/><circle cx="333" cy="257.8" r="1.9"/><circle cx="335.5" cy="257.6" r="1.9"/><circle cx="338" cy="257.5" r="1.9"/><circle cx="340.5" cy="257.3" r="1.9"/><circle cx="343" cy="257.1" r="1.9"/><circle cx="345.5" cy="257" r="1.9"/><circle cx="348" cy="256.8" r="1.9"/><circle cx="350.5" cy="256.6" r="1.9"/><circle cx="353" cy="256.5" r="1.9"/><circle cx="355.5" cy="256.3" r="1.9"/><circle cx="358" cy="256.1" r="1.9"/><circle cx="360.5" cy="256" r="1.9"/><circle cx="363" cy="255.8" r="1.9"/><circle cx="365.5" cy="255.7" r="1.9"/><circle cx="368" cy="255.6" r="1.9"/><circle cx="370.5" cy="256.2" r="1.9"/><circle cx="373" cy="258.7" r="1.9"/><circle cx="375.5" cy="263" r="1.9"/><circle cx="378" cy="268" r="1.9"/><circle cx="380.5" cy="273" r="1.9"/><circle cx="383" cy="277.5" r="1.9"/><circle cx="385.5" cy="281.8" r="1.9"/><circle cx="388" cy="285.8" r="1.9"/><circle cx="390.5" cy="290" r="1.9"/><circle cx="393" cy="294.9" r="1.9"/><circle cx="395.5" cy="299.2" r="1.9"/><circle cx="398" cy="301.9" r="1.9"/><circle cx="400.5" cy="304.7" r="1.9"/><circle cx="403" cy="307.6" r="1.9"/><circle cx="405.5" cy="310.7" r="1.9"/><circle cx="408" cy="313.8" r="1.9"/><circle cx="410.5" cy="317.1" r="1.9"/><circle cx="413" cy="319.9" r="1.9"/><circle cx="415.5" cy="322.2" r="1.9"/><circle cx="418" cy="324.5" r="1.9"/><circle cx="420.5" cy="325.8" r="1.9"/><circle cx="423" cy="327" r="1.9"/><circle cx="425.5" cy="328.3" r="1.9"/><circle cx="428" cy="329.9" r="1.9"/><circle cx="430.5" cy="331.5" r="1.9"/><circle cx="433" cy="332.8" r="1.9"/><circle cx="435.5" cy="333.5" r="1.9"/><circle cx="438" cy="334.2" r="1.9"/><circle cx="440.5" cy="334.8" r="1.9"/><circle cx="443" cy="334.9" r="1.9"/><circle cx="445.5" cy="334.9" r="1.9"/><circle cx="448" cy="334.9" r="1.9"/><circle cx="450.5" cy="335" r="1.9"/><circle cx="453" cy="335" r="1.9"/><circle cx="455.5" cy="335.1" r="1.9"/><circle cx="458" cy="335.1" r="1.9"/><circle cx="460.5" cy="335.2" r="1.9"/><circle cx="463" cy="335.2" r="1.9"/><circle cx="465.5" cy="335.3" r="1.9"/><circle cx="468" cy="335.3" r="1.9"/><circle cx="470.5" cy="335.4" r="1.9"/><circle cx="473" cy="335.4" r="1.9"/><circle cx="475.5" cy="335.5" r="1.9"/><circle cx="478" cy="335.5" r="1.9"/><circle cx="480.5" cy="335.5" r="1.9"/><circle cx="483" cy="335.6" r="1.9"/><circle cx="485.5" cy="335.6" r="1.9"/><circle cx="488" cy="335.7" r="1.9"/><circle cx="490.5" cy="335.7" r="1.9"/><circle cx="493" cy="335.8" r="1.9"/><circle cx="495.5" cy="335.8" r="1.9"/><circle cx="498" cy="335.9" r="1.9"/><circle cx="500.5" cy="335.9" r="1.9"/><circle cx="503" cy="336" r="1.9"/><circle cx="505.5" cy="336" r="1.9"/><circle cx="508" cy="336" r="1.9"/><circle cx="510.5" cy="336" r="1.9"/><circle cx="513" cy="336" r="1.9"/><circle cx="515.5" cy="336" r="1.9"/><circle cx="518" cy="336" r="1.9"/><circle cx="520.5" cy="336" r="1.9"/><circle cx="523" cy="336.1" r="1.9"/><circle cx="525.5" cy="336.1" r="1.9"/><circle cx="528" cy="336.1" r="1.9"/><circle cx="530.5" cy="336.1" r="1.9"/><circle cx="533" cy="336.1" r="1.9"/><circle cx="535.5" cy="336.1" r="1.9"/><circle cx="538" cy="336.1" r="1.9"/><circle cx="540.5" cy="336.1" r="1.9"/><circle cx="543" cy="336.1" r="1.9"/><circle cx="545.5" cy="336.1" r="1.9"/><circle cx="548" cy="336.1" r="1.9"/><circle cx="550.5" cy="336.1" r="1.9"/><circle cx="553" cy="336.2" r="1.9"/><circle cx="555.5" cy="336.2" r="1.9"/><circle cx="558" cy="336.2" r="1.9"/><circle cx="560.5" cy="336.2" r="1.9"/><circle cx="563" cy="336.2" r="1.9"/><circle cx="565.5" cy="336.2" r="1.9"/><circle cx="568" cy="336.2" r="1.9"/><circle cx="570.5" cy="336.9" r="1.9"/><circle cx="573" cy="338.3" r="1.9"/><circle cx="575.5" cy="340.9" r="1.9"/><circle cx="578" cy="343.6" r="1.9"/><circle cx="580.5" cy="346.5" r="1.9"/><circle cx="583" cy="348.3" r="1.9"/><circle cx="585.5" cy="349.6" r="1.9"/><circle cx="588" cy="350.3" r="1.9"/><circle cx="590.5" cy="350.8" r="1.9"/><circle cx="593" cy="351" r="1.9"/><circle cx="595.5" cy="351.3" r="1.9"/><circle cx="598" cy="351.6" r="1.9"/><circle cx="600.5" cy="351.8" r="1.9"/><circle cx="603" cy="351.9" r="1.9"/><circle cx="605.5" cy="351.9" r="1.9"/><circle cx="608" cy="352" r="1.9"/><circle cx="610.5" cy="352.1" r="1.9"/><circle cx="613" cy="352.1" r="1.9"/><circle cx="615.5" cy="352.2" r="1.9"/><circle cx="618" cy="352.2" r="1.9"/><circle cx="620.5" cy="352.3" r="1.9"/><circle cx="623" cy="352.2" r="1.9"/><circle cx="625.5" cy="352.2" r="1.9"/><circle cx="628" cy="352.2" r="1.9"/><circle cx="630.5" cy="352.1" r="1.9"/><circle cx="633" cy="352.1" r="1.9"/><circle cx="635.5" cy="352" r="1.9"/><circle cx="638" cy="352" r="1.9"/><circle cx="640.5" cy="352" r="1.9"/><circle cx="643" cy="351.9" r="1.9"/><circle cx="645.5" cy="351.9" r="1.9"/><circle cx="648" cy="351.8" r="1.9"/><circle cx="650.5" cy="351.8" r="1.9"/><circle cx="653" cy="351.8" r="1.9"/><circle cx="655.5" cy="351.8" r="1.9"/><circle cx="658" cy="351.7" r="1.9"/><circle cx="660.5" cy="351.7" r="1.9"/><circle cx="663" cy="351.7" r="1.9"/><circle cx="665.5" cy="351.7" r="1.9"/><circle cx="668" cy="351.6" r="1.9"/><circle cx="670.5" cy="351.6" r="1.9"/><circle cx="673" cy="351.6" r="1.9"/><circle cx="675.5" cy="351.6" r="1.9"/><circle cx="678" cy="351.5" r="1.9"/><circle cx="680.5" cy="351.5" r="1.9"/><circle cx="683" cy="351.5" r="1.9"/></g>
<polyline points="43,255.5 60,254.3 80,252.8 104,251.5 120,251.5 124.7,252 128,254 130.9,256.6 135,260 139,262.7 144,264.8 149.3,265.6 160,265.6 183,265 220,263.5 250,262 300,259.5 330,257.5 360,255.2 369,254.8 372.1,257 373.2,262.3 376.3,270.6 379.4,277.8 383.5,284 387.6,291.2 391.7,297.3 393.8,304.5 397.9,309.7 403,315.8 409.2,322 416.4,326.1 424.7,327.8 430.8,332.3 439,334.4 445,335.3 460,335.7 505,335.7 570.7,336 578,336.5 583,337.5 586,339 589,340.5 591.7,342 594,345 597,348.6 602.2,351.2 620,351.8 650,351.3 683,350.8" fill="none" stroke="#6060f0" stroke-width="0.6"/><g fill="#fff" stroke="#2424b8" stroke-width="0.95"><rect x="41.1" y="253.7" width="3.7" height="3.7"/><rect x="43.6" y="253.5" width="3.7" height="3.7"/><rect x="46.1" y="253.3" width="3.7" height="3.7"/><rect x="48.6" y="253.1" width="3.7" height="3.7"/><rect x="51.1" y="252.9" width="3.7" height="3.7"/><rect x="53.6" y="252.8" width="3.7" height="3.7"/><rect x="56.1" y="252.6" width="3.7" height="3.7"/><rect x="58.6" y="252.4" width="3.7" height="3.7"/><rect x="61.1" y="252.2" width="3.7" height="3.7"/><rect x="63.6" y="252" width="3.7" height="3.7"/><rect x="66.2" y="251.9" width="3.7" height="3.7"/><rect x="68.7" y="251.7" width="3.7" height="3.7"/><rect x="71.2" y="251.5" width="3.7" height="3.7"/><rect x="73.7" y="251.3" width="3.7" height="3.7"/><rect x="76.2" y="251.1" width="3.7" height="3.7"/><rect x="78.7" y="250.9" width="3.7" height="3.7"/><rect x="81.2" y="250.8" width="3.7" height="3.7"/><rect x="83.7" y="250.7" width="3.7" height="3.7"/><rect x="86.2" y="250.5" width="3.7" height="3.7"/><rect x="88.7" y="250.4" width="3.7" height="3.7"/><rect x="91.2" y="250.2" width="3.7" height="3.7"/><rect x="93.7" y="250.1" width="3.7" height="3.7"/><rect x="96.2" y="250" width="3.7" height="3.7"/><rect x="98.7" y="249.8" width="3.7" height="3.7"/><rect x="101.2" y="249.7" width="3.7" height="3.7"/><rect x="103.7" y="249.7" width="3.7" height="3.7"/><rect x="106.2" y="249.7" width="3.7" height="3.7"/><rect x="108.7" y="249.7" width="3.7" height="3.7"/><rect x="111.2" y="249.7" width="3.7" height="3.7"/><rect x="113.7" y="249.7" width="3.7" height="3.7"/><rect x="116.2" y="249.7" width="3.7" height="3.7"/><rect x="118.7" y="249.7" width="3.7" height="3.7"/><rect x="121.2" y="250" width="3.7" height="3.7"/><rect x="123.7" y="250.6" width="3.7" height="3.7"/><rect x="126.2" y="252.2" width="3.7" height="3.7"/><rect x="128.7" y="254.4" width="3.7" height="3.7"/><rect x="131.2" y="256.5" width="3.7" height="3.7"/><rect x="133.7" y="258.5" width="3.7" height="3.7"/><rect x="136.2" y="260.2" width="3.7" height="3.7"/><rect x="138.7" y="261.5" width="3.7" height="3.7"/><rect x="141.2" y="262.5" width="3.7" height="3.7"/><rect x="143.7" y="263.2" width="3.7" height="3.7"/><rect x="146.2" y="263.6" width="3.7" height="3.7"/><rect x="148.7" y="263.8" width="3.7" height="3.7"/><rect x="151.2" y="263.8" width="3.7" height="3.7"/><rect x="153.7" y="263.8" width="3.7" height="3.7"/><rect x="156.2" y="263.8" width="3.7" height="3.7"/><rect x="158.7" y="263.7" width="3.7" height="3.7"/><rect x="161.2" y="263.7" width="3.7" height="3.7"/><rect x="163.7" y="263.6" width="3.7" height="3.7"/><rect x="166.2" y="263.5" width="3.7" height="3.7"/><rect x="168.7" y="263.5" width="3.7" height="3.7"/><rect x="171.2" y="263.4" width="3.7" height="3.7"/><rect x="173.7" y="263.3" width="3.7" height="3.7"/><rect x="176.2" y="263.3" width="3.7" height="3.7"/><rect x="178.7" y="263.2" width="3.7" height="3.7"/><rect x="181.2" y="263.1" width="3.7" height="3.7"/><rect x="183.7" y="263" width="3.7" height="3.7"/><rect x="186.2" y="262.9" width="3.7" height="3.7"/><rect x="188.7" y="262.8" width="3.7" height="3.7"/><rect x="191.2" y="262.7" width="3.7" height="3.7"/><rect x="193.7" y="262.6" width="3.7" height="3.7"/><rect x="196.2" y="262.5" width="3.7" height="3.7"/><rect x="198.7" y="262.4" width="3.7" height="3.7"/><rect x="201.2" y="262.3" width="3.7" height="3.7"/><rect x="203.7" y="262.2" width="3.7" height="3.7"/><rect x="206.2" y="262.1" width="3.7" height="3.7"/><rect x="208.7" y="262" width="3.7" height="3.7"/><rect x="211.2" y="261.9" width="3.7" height="3.7"/><rect x="213.7" y="261.8" width="3.7" height="3.7"/><rect x="216.2" y="261.7" width="3.7" height="3.7"/><rect x="218.7" y="261.6" width="3.7" height="3.7"/><rect x="221.2" y="261.5" width="3.7" height="3.7"/><rect x="223.7" y="261.4" width="3.7" height="3.7"/><rect x="226.2" y="261.2" width="3.7" height="3.7"/><rect x="228.7" y="261.1" width="3.7" height="3.7"/><rect x="231.2" y="261" width="3.7" height="3.7"/><rect x="233.7" y="260.9" width="3.7" height="3.7"/><rect x="236.2" y="260.8" width="3.7" height="3.7"/><rect x="238.7" y="260.6" width="3.7" height="3.7"/><rect x="241.2" y="260.5" width="3.7" height="3.7"/><rect x="243.7" y="260.4" width="3.7" height="3.7"/><rect x="246.2" y="260.2" width="3.7" height="3.7"/><rect x="248.7" y="260.1" width="3.7" height="3.7"/><rect x="251.2" y="260" width="3.7" height="3.7"/><rect x="253.7" y="259.9" width="3.7" height="3.7"/><rect x="256.1" y="259.8" width="3.7" height="3.7"/><rect x="258.6" y="259.6" width="3.7" height="3.7"/><rect x="261.1" y="259.5" width="3.7" height="3.7"/><rect x="263.6" y="259.4" width="3.7" height="3.7"/><rect x="266.1" y="259.2" width="3.7" height="3.7"/><rect x="268.6" y="259.1" width="3.7" height="3.7"/><rect x="271.1" y="259" width="3.7" height="3.7"/><rect x="273.6" y="258.9" width="3.7" height="3.7"/><rect x="276.1" y="258.8" width="3.7" height="3.7"/><rect x="278.6" y="258.6" width="3.7" height="3.7"/><rect x="281.1" y="258.5" width="3.7" height="3.7"/><rect x="283.6" y="258.4" width="3.7" height="3.7"/><rect x="286.1" y="258.2" width="3.7" height="3.7"/><rect x="288.6" y="258.1" width="3.7" height="3.7"/><rect x="291.1" y="258" width="3.7" height="3.7"/><rect x="293.6" y="257.9" width="3.7" height="3.7"/><rect x="296.1" y="257.8" width="3.7" height="3.7"/><rect x="298.6" y="257.6" width="3.7" height="3.7"/><rect x="301.1" y="257.4" width="3.7" height="3.7"/><rect x="303.6" y="257.3" width="3.7" height="3.7"/><rect x="306.1" y="257.1" width="3.7" height="3.7"/><rect x="308.6" y="256.9" width="3.7" height="3.7"/><rect x="311.1" y="256.8" width="3.7" height="3.7"/><rect x="313.6" y="256.6" width="3.7" height="3.7"/><rect x="316.1" y="256.4" width="3.7" height="3.7"/><rect x="318.6" y="256.3" width="3.7" height="3.7"/><rect x="321.1" y="256.1" width="3.7" height="3.7"/><rect x="323.6" y="256" width="3.7" height="3.7"/><rect x="326.1" y="255.8" width="3.7" height="3.7"/><rect x="328.6" y="255.6" width="3.7" height="3.7"/><rect x="331.1" y="255.4" width="3.7" height="3.7"/><rect x="333.6" y="255.2" width="3.7" height="3.7"/><rect x="336.1" y="255" width="3.7" height="3.7"/><rect x="338.6" y="254.8" width="3.7" height="3.7"/><rect x="341.1" y="254.7" width="3.7" height="3.7"/><rect x="343.6" y="254.5" width="3.7" height="3.7"/><rect x="346.1" y="254.3" width="3.7" height="3.7"/><rect x="348.6" y="254.1" width="3.7" height="3.7"/><rect x="351.1" y="253.9" width="3.7" height="3.7"/><rect x="353.6" y="253.7" width="3.7" height="3.7"/><rect x="356.1" y="253.5" width="3.7" height="3.7"/><rect x="358.6" y="253.3" width="3.7" height="3.7"/><rect x="361.1" y="253.2" width="3.7" height="3.7"/><rect x="363.6" y="253.1" width="3.7" height="3.7"/><rect x="366.1" y="253" width="3.7" height="3.7"/><rect x="368.6" y="254" width="3.7" height="3.7"/><rect x="371.1" y="259.5" width="3.7" height="3.7"/><rect x="373.6" y="266.6" width="3.7" height="3.7"/><rect x="376.1" y="272.7" width="3.7" height="3.7"/><rect x="378.6" y="277.6" width="3.7" height="3.7"/><rect x="381.1" y="281.4" width="3.7" height="3.7"/><rect x="383.6" y="285.7" width="3.7" height="3.7"/><rect x="386.1" y="289.9" width="3.7" height="3.7"/><rect x="388.6" y="293.7" width="3.7" height="3.7"/><rect x="391.1" y="299.9" width="3.7" height="3.7"/><rect x="393.6" y="304.8" width="3.7" height="3.7"/><rect x="396.1" y="308" width="3.7" height="3.7"/><rect x="398.6" y="311" width="3.7" height="3.7"/><rect x="401.1" y="313.9" width="3.7" height="3.7"/><rect x="403.6" y="316.4" width="3.7" height="3.7"/><rect x="406.1" y="318.9" width="3.7" height="3.7"/><rect x="408.6" y="320.9" width="3.7" height="3.7"/><rect x="411.1" y="322.3" width="3.7" height="3.7"/><rect x="413.6" y="323.7" width="3.7" height="3.7"/><rect x="416.1" y="324.6" width="3.7" height="3.7"/><rect x="418.6" y="325.1" width="3.7" height="3.7"/><rect x="421.1" y="325.6" width="3.7" height="3.7"/><rect x="423.6" y="326.5" width="3.7" height="3.7"/><rect x="426.1" y="328.4" width="3.7" height="3.7"/><rect x="428.6" y="330.2" width="3.7" height="3.7"/><rect x="431.1" y="331" width="3.7" height="3.7"/><rect x="433.6" y="331.7" width="3.7" height="3.7"/><rect x="436.1" y="332.3" width="3.7" height="3.7"/><rect x="438.6" y="332.8" width="3.7" height="3.7"/><rect x="441.1" y="333.1" width="3.7" height="3.7"/><rect x="443.6" y="333.5" width="3.7" height="3.7"/><rect x="446.1" y="333.5" width="3.7" height="3.7"/><rect x="448.6" y="333.6" width="3.7" height="3.7"/><rect x="451.1" y="333.7" width="3.7" height="3.7"/><rect x="453.6" y="333.7" width="3.7" height="3.7"/><rect x="456.1" y="333.8" width="3.7" height="3.7"/><rect x="458.6" y="333.8" width="3.7" height="3.7"/><rect x="461.1" y="333.8" width="3.7" height="3.7"/><rect x="463.6" y="333.8" width="3.7" height="3.7"/><rect x="466.1" y="333.8" width="3.7" height="3.7"/><rect x="468.6" y="333.8" width="3.7" height="3.7"/><rect x="471.1" y="333.8" width="3.7" height="3.7"/><rect x="473.6" y="333.8" width="3.7" height="3.7"/><rect x="476.1" y="333.8" width="3.7" height="3.7"/><rect x="478.6" y="333.8" width="3.7" height="3.7"/><rect x="481.1" y="333.8" width="3.7" height="3.7"/><rect x="483.6" y="333.8" width="3.7" height="3.7"/><rect x="486.1" y="333.8" width="3.7" height="3.7"/><rect x="488.6" y="333.8" width="3.7" height="3.7"/><rect x="491.1" y="333.8" width="3.7" height="3.7"/><rect x="493.6" y="333.8" width="3.7" height="3.7"/><rect x="496.1" y="333.8" width="3.7" height="3.7"/><rect x="498.6" y="333.8" width="3.7" height="3.7"/><rect x="501.1" y="333.8" width="3.7" height="3.7"/><rect x="503.6" y="333.9" width="3.7" height="3.7"/><rect x="506.1" y="333.9" width="3.7" height="3.7"/><rect x="508.6" y="333.9" width="3.7" height="3.7"/><rect x="511.1" y="333.9" width="3.7" height="3.7"/><rect x="513.6" y="333.9" width="3.7" height="3.7"/><rect x="516.1" y="333.9" width="3.7" height="3.7"/><rect x="518.6" y="333.9" width="3.7" height="3.7"/><rect x="521.1" y="333.9" width="3.7" height="3.7"/><rect x="523.6" y="333.9" width="3.7" height="3.7"/><rect x="526.1" y="334" width="3.7" height="3.7"/><rect x="528.6" y="334" width="3.7" height="3.7"/><rect x="531.1" y="334" width="3.7" height="3.7"/><rect x="533.6" y="334" width="3.7" height="3.7"/><rect x="536.1" y="334" width="3.7" height="3.7"/><rect x="538.6" y="334" width="3.7" height="3.7"/><rect x="541.1" y="334" width="3.7" height="3.7"/><rect x="543.6" y="334" width="3.7" height="3.7"/><rect x="546.1" y="334" width="3.7" height="3.7"/><rect x="548.6" y="334.1" width="3.7" height="3.7"/><rect x="551.1" y="334.1" width="3.7" height="3.7"/><rect x="553.6" y="334.1" width="3.7" height="3.7"/><rect x="556.1" y="334.1" width="3.7" height="3.7"/><rect x="558.6" y="334.1" width="3.7" height="3.7"/><rect x="561.1" y="334.1" width="3.7" height="3.7"/><rect x="563.6" y="334.1" width="3.7" height="3.7"/><rect x="566.1" y="334.1" width="3.7" height="3.7"/><rect x="568.6" y="334.1" width="3.7" height="3.7"/><rect x="571.1" y="334.3" width="3.7" height="3.7"/><rect x="573.6" y="334.5" width="3.7" height="3.7"/><rect x="576.1" y="334.6" width="3.7" height="3.7"/><rect x="578.6" y="335.1" width="3.7" height="3.7"/><rect x="581.1" y="335.6" width="3.7" height="3.7"/><rect x="583.6" y="336.9" width="3.7" height="3.7"/><rect x="586.1" y="338.1" width="3.7" height="3.7"/><rect x="588.6" y="339.5" width="3.7" height="3.7"/><rect x="591.1" y="341.8" width="3.7" height="3.7"/><rect x="593.6" y="344.9" width="3.7" height="3.7"/><rect x="596.1" y="347.2" width="3.7" height="3.7"/><rect x="598.6" y="348.5" width="3.7" height="3.7"/><rect x="601.1" y="349.4" width="3.7" height="3.7"/><rect x="603.6" y="349.5" width="3.7" height="3.7"/><rect x="606.1" y="349.5" width="3.7" height="3.7"/><rect x="608.6" y="349.6" width="3.7" height="3.7"/><rect x="611.1" y="349.7" width="3.7" height="3.7"/><rect x="613.6" y="349.8" width="3.7" height="3.7"/><rect x="616.1" y="349.9" width="3.7" height="3.7"/><rect x="618.6" y="349.9" width="3.7" height="3.7"/><rect x="621.1" y="349.9" width="3.7" height="3.7"/><rect x="623.6" y="349.9" width="3.7" height="3.7"/><rect x="626.1" y="349.8" width="3.7" height="3.7"/><rect x="628.6" y="349.8" width="3.7" height="3.7"/><rect x="631.1" y="349.7" width="3.7" height="3.7"/><rect x="633.6" y="349.7" width="3.7" height="3.7"/><rect x="636.1" y="349.6" width="3.7" height="3.7"/><rect x="638.6" y="349.6" width="3.7" height="3.7"/><rect x="641.1" y="349.6" width="3.7" height="3.7"/><rect x="643.6" y="349.5" width="3.7" height="3.7"/><rect x="646.1" y="349.5" width="3.7" height="3.7"/><rect x="648.6" y="349.4" width="3.7" height="3.7"/><rect x="651.1" y="349.4" width="3.7" height="3.7"/><rect x="653.6" y="349.4" width="3.7" height="3.7"/><rect x="656.1" y="349.3" width="3.7" height="3.7"/><rect x="658.6" y="349.3" width="3.7" height="3.7"/><rect x="661.1" y="349.3" width="3.7" height="3.7"/><rect x="663.6" y="349.2" width="3.7" height="3.7"/><rect x="666.1" y="349.2" width="3.7" height="3.7"/><rect x="668.6" y="349.1" width="3.7" height="3.7"/><rect x="671.1" y="349.1" width="3.7" height="3.7"/><rect x="673.6" y="349.1" width="3.7" height="3.7"/><rect x="676.1" y="349" width="3.7" height="3.7"/><rect x="678.6" y="349" width="3.7" height="3.7"/><rect x="681.1" y="348.9" width="3.7" height="3.7"/></g>
<polyline points="43,339.8 60,338.6 80,337.3 100,336 114.5,335.5 125,335.3 139,335.5 142,337.5 147.2,342.5 151,345.5 154.4,347.6 158,349.5 165,350.3 183,350.7 200,350.1 215,349.3 230,348.3 242,347.4 252,346 260,344.3 266,342.5 273,339.5 280,336 290,329.5 298,324 302,319 304.6,302.9 306.8,294.7 309.6,289.2 312.7,284 315.4,277 318,268 321,265.5 330,262.5 360,260 370,259 383,257.2 420,255.3 480,253.5 505,253.2 567,253.2 571,253.5 574,254.3 577,256.6 580.3,261 583,263.6 586,265.2 590,265.8 600,266.4 620,267.8 650,268.8 683,269.4" fill="none" stroke="#ee2020" stroke-width="0.8"/><g fill="#ee1010" stroke="#ee1010" stroke-width="0.8"><circle cx="44.2" cy="339.7" r="1.8"/><circle cx="46.7" cy="339.5" r="1.8"/><circle cx="49.2" cy="339.4" r="1.8"/><circle cx="51.7" cy="339.2" r="1.8"/><circle cx="54.2" cy="339" r="1.8"/><circle cx="56.7" cy="338.8" r="1.8"/><circle cx="59.2" cy="338.7" r="1.8"/><circle cx="61.7" cy="338.5" r="1.8"/><circle cx="64.2" cy="338.3" r="1.8"/><circle cx="66.7" cy="338.2" r="1.8"/><circle cx="69.2" cy="338" r="1.8"/><circle cx="71.7" cy="337.8" r="1.8"/><circle cx="74.2" cy="337.7" r="1.8"/><circle cx="76.7" cy="337.5" r="1.8"/><circle cx="79.2" cy="337.4" r="1.8"/><circle cx="81.7" cy="337.2" r="1.8"/><circle cx="84.2" cy="337" r="1.8"/><circle cx="86.7" cy="336.9" r="1.8"/><circle cx="89.2" cy="336.7" r="1.8"/><circle cx="91.7" cy="336.5" r="1.8"/><circle cx="94.2" cy="336.4" r="1.8"/><circle cx="96.7" cy="336.2" r="1.8"/><circle cx="99.2" cy="336.1" r="1.8"/><circle cx="101.7" cy="335.9" r="1.8"/><circle cx="104.2" cy="335.9" r="1.8"/><circle cx="106.7" cy="335.8" r="1.8"/><circle cx="109.2" cy="335.7" r="1.8"/><circle cx="111.7" cy="335.6" r="1.8"/><circle cx="114.2" cy="335.5" r="1.8"/><circle cx="116.7" cy="335.5" r="1.8"/><circle cx="119.2" cy="335.4" r="1.8"/><circle cx="121.7" cy="335.4" r="1.8"/><circle cx="124.2" cy="335.3" r="1.8"/><circle cx="126.7" cy="335.3" r="1.8"/><circle cx="129.2" cy="335.4" r="1.8"/><circle cx="131.7" cy="335.4" r="1.8"/><circle cx="134.2" cy="335.4" r="1.8"/><circle cx="136.7" cy="335.5" r="1.8"/><circle cx="139.2" cy="335.6" r="1.8"/><circle cx="141.7" cy="337.3" r="1.8"/><circle cx="144.2" cy="339.6" r="1.8"/><circle cx="146.7" cy="342" r="1.8"/><circle cx="149.2" cy="344.1" r="1.8"/><circle cx="151.7" cy="345.9" r="1.8"/><circle cx="154.2" cy="347.5" r="1.8"/><circle cx="156.7" cy="348.8" r="1.8"/><circle cx="159.2" cy="349.6" r="1.8"/><circle cx="161.7" cy="349.9" r="1.8"/><circle cx="164.2" cy="350.2" r="1.8"/><circle cx="166.7" cy="350.3" r="1.8"/><circle cx="169.2" cy="350.4" r="1.8"/><circle cx="171.7" cy="350.4" r="1.8"/><circle cx="174.2" cy="350.5" r="1.8"/><circle cx="176.7" cy="350.6" r="1.8"/><circle cx="179.2" cy="350.6" r="1.8"/><circle cx="181.7" cy="350.7" r="1.8"/><circle cx="184.2" cy="350.7" r="1.8"/><circle cx="186.7" cy="350.6" r="1.8"/><circle cx="189.2" cy="350.5" r="1.8"/><circle cx="191.7" cy="350.4" r="1.8"/><circle cx="194.2" cy="350.3" r="1.8"/><circle cx="196.7" cy="350.2" r="1.8"/><circle cx="199.2" cy="350.1" r="1.8"/><circle cx="201.7" cy="350" r="1.8"/><circle cx="204.2" cy="349.9" r="1.8"/><circle cx="206.7" cy="349.7" r="1.8"/><circle cx="209.2" cy="349.6" r="1.8"/><circle cx="211.7" cy="349.5" r="1.8"/><circle cx="214.2" cy="349.3" r="1.8"/><circle cx="216.7" cy="349.2" r="1.8"/><circle cx="219.2" cy="349" r="1.8"/><circle cx="221.7" cy="348.9" r="1.8"/><circle cx="224.2" cy="348.7" r="1.8"/><circle cx="226.7" cy="348.5" r="1.8"/><circle cx="229.2" cy="348.4" r="1.8"/><circle cx="231.7" cy="348.2" r="1.8"/><circle cx="234.2" cy="348" r="1.8"/><circle cx="236.7" cy="347.8" r="1.8"/><circle cx="239.2" cy="347.6" r="1.8"/><circle cx="241.7" cy="347.4" r="1.8"/><circle cx="244.2" cy="347.1" r="1.8"/><circle cx="246.7" cy="346.7" r="1.8"/><circle cx="249.2" cy="346.4" r="1.8"/><circle cx="251.7" cy="346" r="1.8"/><circle cx="254.2" cy="345.5" r="1.8"/><circle cx="256.7" cy="345" r="1.8"/><circle cx="259.2" cy="344.5" r="1.8"/><circle cx="261.7" cy="343.8" r="1.8"/><circle cx="264.2" cy="343" r="1.8"/><circle cx="266.7" cy="342.2" r="1.8"/><circle cx="269.2" cy="341.1" r="1.8"/><circle cx="271.7" cy="340.1" r="1.8"/><circle cx="274.2" cy="338.9" r="1.8"/><circle cx="276.7" cy="337.6" r="1.8"/><circle cx="279.2" cy="336.4" r="1.8"/><circle cx="281.7" cy="334.9" r="1.8"/><circle cx="284.2" cy="333.3" r="1.8"/><circle cx="286.7" cy="331.6" r="1.8"/><circle cx="289.2" cy="330" r="1.8"/><circle cx="291.7" cy="328.3" r="1.8"/><circle cx="294.2" cy="326.6" r="1.8"/><circle cx="296.7" cy="324.9" r="1.8"/><circle cx="299.2" cy="322.5" r="1.8"/><circle cx="301.7" cy="319.4" r="1.8"/><circle cx="304.2" cy="305.4" r="1.8"/><circle cx="306.7" cy="295.1" r="1.8"/><circle cx="309.2" cy="290" r="1.8"/><circle cx="311.7" cy="285.7" r="1.8"/><circle cx="314.2" cy="280.1" r="1.8"/><circle cx="316.7" cy="272.5" r="1.8"/><circle cx="319.2" cy="267" r="1.8"/><circle cx="321.7" cy="265.3" r="1.8"/><circle cx="324.2" cy="264.4" r="1.8"/><circle cx="326.7" cy="263.6" r="1.8"/><circle cx="329.2" cy="262.8" r="1.8"/><circle cx="331.7" cy="262.4" r="1.8"/><circle cx="334.2" cy="262.1" r="1.8"/><circle cx="336.7" cy="261.9" r="1.8"/><circle cx="339.2" cy="261.7" r="1.8"/><circle cx="341.7" cy="261.5" r="1.8"/><circle cx="344.2" cy="261.3" r="1.8"/><circle cx="346.7" cy="261.1" r="1.8"/><circle cx="349.2" cy="260.9" r="1.8"/><circle cx="351.7" cy="260.7" r="1.8"/><circle cx="354.2" cy="260.5" r="1.8"/><circle cx="356.7" cy="260.3" r="1.8"/><circle cx="359.2" cy="260.1" r="1.8"/><circle cx="361.7" cy="259.8" r="1.8"/><circle cx="364.2" cy="259.6" r="1.8"/><circle cx="366.7" cy="259.3" r="1.8"/><circle cx="369.2" cy="259.1" r="1.8"/><circle cx="371.7" cy="258.8" r="1.8"/><circle cx="374.2" cy="258.4" r="1.8"/><circle cx="376.7" cy="258.1" r="1.8"/><circle cx="379.2" cy="257.7" r="1.8"/><circle cx="381.7" cy="257.4" r="1.8"/><circle cx="384.2" cy="257.1" r="1.8"/><circle cx="386.7" cy="257" r="1.8"/><circle cx="389.2" cy="256.9" r="1.8"/><circle cx="391.7" cy="256.8" r="1.8"/><circle cx="394.2" cy="256.6" r="1.8"/><circle cx="396.7" cy="256.5" r="1.8"/><circle cx="399.2" cy="256.4" r="1.8"/><circle cx="401.7" cy="256.2" r="1.8"/><circle cx="404.2" cy="256.1" r="1.8"/><circle cx="406.7" cy="256" r="1.8"/><circle cx="409.2" cy="255.9" r="1.8"/><circle cx="411.7" cy="255.7" r="1.8"/><circle cx="414.2" cy="255.6" r="1.8"/><circle cx="416.7" cy="255.5" r="1.8"/><circle cx="419.2" cy="255.3" r="1.8"/><circle cx="421.7" cy="255.2" r="1.8"/><circle cx="424.2" cy="255.2" r="1.8"/><circle cx="426.7" cy="255.1" r="1.8"/><circle cx="429.2" cy="255" r="1.8"/><circle cx="431.7" cy="254.9" r="1.8"/><circle cx="434.2" cy="254.9" r="1.8"/><circle cx="436.7" cy="254.8" r="1.8"/><circle cx="439.2" cy="254.7" r="1.8"/><circle cx="441.7" cy="254.6" r="1.8"/><circle cx="444.2" cy="254.6" r="1.8"/><circle cx="446.7" cy="254.5" r="1.8"/><circle cx="449.2" cy="254.4" r="1.8"/><circle cx="451.7" cy="254.3" r="1.8"/><circle cx="454.2" cy="254.3" r="1.8"/><circle cx="456.7" cy="254.2" r="1.8"/><circle cx="459.2" cy="254.1" r="1.8"/><circle cx="461.7" cy="254" r="1.8"/><circle cx="464.2" cy="254" r="1.8"/><circle cx="466.7" cy="253.9" r="1.8"/><circle cx="469.2" cy="253.8" r="1.8"/><circle cx="471.7" cy="253.7" r="1.8"/><circle cx="474.2" cy="253.7" r="1.8"/><circle cx="476.7" cy="253.6" r="1.8"/><circle cx="479.2" cy="253.5" r="1.8"/><circle cx="481.7" cy="253.5" r="1.8"/><circle cx="484.2" cy="253.4" r="1.8"/><circle cx="486.7" cy="253.4" r="1.8"/><circle cx="489.2" cy="253.4" r="1.8"/><circle cx="491.7" cy="253.4" r="1.8"/><circle cx="494.2" cy="253.3" r="1.8"/><circle cx="496.7" cy="253.3" r="1.8"/><circle cx="499.2" cy="253.3" r="1.8"/><circle cx="501.7" cy="253.2" r="1.8"/><circle cx="504.2" cy="253.2" r="1.8"/><circle cx="506.7" cy="253.2" r="1.8"/><circle cx="509.2" cy="253.2" r="1.8"/><circle cx="511.7" cy="253.2" r="1.8"/><circle cx="514.2" cy="253.2" r="1.8"/><circle cx="516.7" cy="253.2" r="1.8"/><circle cx="519.2" cy="253.2" r="1.8"/><circle cx="521.7" cy="253.2" r="1.8"/><circle cx="524.2" cy="253.2" r="1.8"/><circle cx="526.7" cy="253.2" r="1.8"/><circle cx="529.2" cy="253.2" r="1.8"/><circle cx="531.7" cy="253.2" r="1.8"/><circle cx="534.2" cy="253.2" r="1.8"/><circle cx="536.7" cy="253.2" r="1.8"/><circle cx="539.2" cy="253.2" r="1.8"/><circle cx="541.7" cy="253.2" r="1.8"/><circle cx="544.2" cy="253.2" r="1.8"/><circle cx="546.7" cy="253.2" r="1.8"/><circle cx="549.2" cy="253.2" r="1.8"/><circle cx="551.7" cy="253.2" r="1.8"/><circle cx="554.2" cy="253.2" r="1.8"/><circle cx="556.7" cy="253.2" r="1.8"/><circle cx="559.2" cy="253.2" r="1.8"/><circle cx="561.7" cy="253.2" r="1.8"/><circle cx="564.2" cy="253.2" r="1.8"/><circle cx="566.7" cy="253.2" r="1.8"/><circle cx="569.2" cy="253.4" r="1.8"/><circle cx="571.7" cy="253.7" r="1.8"/><circle cx="574.2" cy="254.5" r="1.8"/><circle cx="576.7" cy="256.4" r="1.8"/><circle cx="579.2" cy="259.5" r="1.8"/><circle cx="581.7" cy="262.3" r="1.8"/><circle cx="584.2" cy="264.2" r="1.8"/><circle cx="586.7" cy="265.3" r="1.8"/><circle cx="589.2" cy="265.7" r="1.8"/><circle cx="591.7" cy="265.9" r="1.8"/><circle cx="594.2" cy="266.1" r="1.8"/><circle cx="596.7" cy="266.2" r="1.8"/><circle cx="599.2" cy="266.4" r="1.8"/><circle cx="601.7" cy="266.5" r="1.8"/><circle cx="604.2" cy="266.7" r="1.8"/><circle cx="606.7" cy="266.9" r="1.8"/><circle cx="609.2" cy="267" r="1.8"/><circle cx="611.7" cy="267.2" r="1.8"/><circle cx="614.2" cy="267.4" r="1.8"/><circle cx="616.7" cy="267.6" r="1.8"/><circle cx="619.2" cy="267.7" r="1.8"/><circle cx="621.7" cy="267.9" r="1.8"/><circle cx="624.2" cy="267.9" r="1.8"/><circle cx="626.7" cy="268" r="1.8"/><circle cx="629.2" cy="268.1" r="1.8"/><circle cx="631.7" cy="268.2" r="1.8"/><circle cx="634.2" cy="268.3" r="1.8"/><circle cx="636.7" cy="268.4" r="1.8"/><circle cx="639.2" cy="268.4" r="1.8"/><circle cx="641.7" cy="268.5" r="1.8"/><circle cx="644.2" cy="268.6" r="1.8"/><circle cx="646.7" cy="268.7" r="1.8"/><circle cx="649.2" cy="268.8" r="1.8"/><circle cx="651.7" cy="268.8" r="1.8"/><circle cx="654.2" cy="268.9" r="1.8"/><circle cx="656.7" cy="268.9" r="1.8"/><circle cx="659.2" cy="269" r="1.8"/><circle cx="661.7" cy="269" r="1.8"/><circle cx="664.2" cy="269.1" r="1.8"/><circle cx="666.7" cy="269.1" r="1.8"/><circle cx="669.2" cy="269.1" r="1.8"/><circle cx="671.7" cy="269.2" r="1.8"/><circle cx="674.2" cy="269.2" r="1.8"/><circle cx="676.7" cy="269.3" r="1.8"/><circle cx="679.2" cy="269.3" r="1.8"/><circle cx="681.7" cy="269.4" r="1.8"/></g>
<polyline points="43,339.4 60,338.3 80,337 100,335.8 114.5,335.3 120,335.5 122.7,336.2 127,338.3 130.9,341.5 134,344.8 137,347.6 141,349 145.2,349.6 160,350 183,350.2 200,349.6 215,348.8 230,347.8 242,346.8 252,345.3 260,343.5 266,341.6 273,338.6 280,334.9 290,328.5 298,323 302,317.5 303.2,313 305,306 307.8,297.4 309.6,292 312.7,286.1 315.4,279.1 317.8,271.8 319.5,266.5 321,264.1 325,262.5 330,261.2 345,260 360,259 370,257.2 375,255 383,253.2 420,251.3 480,249.6 530,249.4 560,249.5 580,249.7 583.8,250.4 587,252.2 589.5,253.3 591.7,254.3 594.5,258 597,262.2 599.5,264.3 602.2,265.5 620,267.3 640,268.1 660,268.4 683,268.8" fill="none" stroke="#2020e6" stroke-width="0.8"/><g fill="#1414e6" stroke="#1414e6" stroke-width="0.8"><rect x="41.2" y="337.6" width="3.6" height="3.6"/><rect x="43.7" y="337.4" width="3.6" height="3.6"/><rect x="46.2" y="337.3" width="3.6" height="3.6"/><rect x="48.7" y="337.1" width="3.6" height="3.6"/><rect x="51.2" y="337" width="3.6" height="3.6"/><rect x="53.7" y="336.8" width="3.6" height="3.6"/><rect x="56.2" y="336.6" width="3.6" height="3.6"/><rect x="58.7" y="336.5" width="3.6" height="3.6"/><rect x="61.2" y="336.3" width="3.6" height="3.6"/><rect x="63.7" y="336.1" width="3.6" height="3.6"/><rect x="66.2" y="336" width="3.6" height="3.6"/><rect x="68.7" y="335.8" width="3.6" height="3.6"/><rect x="71.2" y="335.7" width="3.6" height="3.6"/><rect x="73.7" y="335.5" width="3.6" height="3.6"/><rect x="76.2" y="335.3" width="3.6" height="3.6"/><rect x="78.7" y="335.2" width="3.6" height="3.6"/><rect x="81.2" y="335" width="3.6" height="3.6"/><rect x="83.7" y="334.9" width="3.6" height="3.6"/><rect x="86.2" y="334.7" width="3.6" height="3.6"/><rect x="88.7" y="334.6" width="3.6" height="3.6"/><rect x="91.2" y="334.4" width="3.6" height="3.6"/><rect x="93.7" y="334.3" width="3.6" height="3.6"/><rect x="96.2" y="334.1" width="3.6" height="3.6"/><rect x="98.7" y="334" width="3.6" height="3.6"/><rect x="101.2" y="333.9" width="3.6" height="3.6"/><rect x="103.7" y="333.8" width="3.6" height="3.6"/><rect x="106.2" y="333.7" width="3.6" height="3.6"/><rect x="108.7" y="333.6" width="3.6" height="3.6"/><rect x="111.2" y="333.6" width="3.6" height="3.6"/><rect x="113.7" y="333.5" width="3.6" height="3.6"/><rect x="116.2" y="333.6" width="3.6" height="3.6"/><rect x="118.7" y="333.8" width="3.6" height="3.6"/><rect x="121.2" y="334.5" width="3.6" height="3.6"/><rect x="123.7" y="335.8" width="3.6" height="3.6"/><rect x="126.2" y="337.3" width="3.6" height="3.6"/><rect x="128.7" y="339.4" width="3.6" height="3.6"/><rect x="131.2" y="341.9" width="3.6" height="3.6"/><rect x="133.7" y="344.4" width="3.6" height="3.6"/><rect x="136.2" y="346.2" width="3.6" height="3.6"/><rect x="138.7" y="347" width="3.6" height="3.6"/><rect x="141.2" y="347.5" width="3.6" height="3.6"/><rect x="143.7" y="347.8" width="3.6" height="3.6"/><rect x="146.2" y="347.9" width="3.6" height="3.6"/><rect x="148.7" y="347.9" width="3.6" height="3.6"/><rect x="151.2" y="348" width="3.6" height="3.6"/><rect x="153.7" y="348.1" width="3.6" height="3.6"/><rect x="156.2" y="348.1" width="3.6" height="3.6"/><rect x="158.7" y="348.2" width="3.6" height="3.6"/><rect x="161.2" y="348.2" width="3.6" height="3.6"/><rect x="163.7" y="348.2" width="3.6" height="3.6"/><rect x="166.2" y="348.3" width="3.6" height="3.6"/><rect x="168.7" y="348.3" width="3.6" height="3.6"/><rect x="171.2" y="348.3" width="3.6" height="3.6"/><rect x="173.7" y="348.3" width="3.6" height="3.6"/><rect x="176.2" y="348.4" width="3.6" height="3.6"/><rect x="178.7" y="348.4" width="3.6" height="3.6"/><rect x="181.2" y="348.4" width="3.6" height="3.6"/><rect x="183.7" y="348.3" width="3.6" height="3.6"/><rect x="186.2" y="348.2" width="3.6" height="3.6"/><rect x="188.7" y="348.1" width="3.6" height="3.6"/><rect x="191.2" y="348" width="3.6" height="3.6"/><rect x="193.7" y="348" width="3.6" height="3.6"/><rect x="196.2" y="347.9" width="3.6" height="3.6"/><rect x="198.7" y="347.8" width="3.6" height="3.6"/><rect x="201.2" y="347.6" width="3.6" height="3.6"/><rect x="203.7" y="347.5" width="3.6" height="3.6"/><rect x="206.2" y="347.4" width="3.6" height="3.6"/><rect x="208.7" y="347.2" width="3.6" height="3.6"/><rect x="211.2" y="347.1" width="3.6" height="3.6"/><rect x="213.7" y="347" width="3.6" height="3.6"/><rect x="216.2" y="346.8" width="3.6" height="3.6"/><rect x="218.7" y="346.6" width="3.6" height="3.6"/><rect x="221.2" y="346.5" width="3.6" height="3.6"/><rect x="223.7" y="346.3" width="3.6" height="3.6"/><rect x="226.2" y="346.1" width="3.6" height="3.6"/><rect x="228.7" y="346" width="3.6" height="3.6"/><rect x="231.2" y="345.8" width="3.6" height="3.6"/><rect x="233.7" y="345.5" width="3.6" height="3.6"/><rect x="236.2" y="345.3" width="3.6" height="3.6"/><rect x="238.7" y="345.1" width="3.6" height="3.6"/><rect x="241.2" y="344.9" width="3.6" height="3.6"/><rect x="243.7" y="344.5" width="3.6" height="3.6"/><rect x="246.2" y="344.1" width="3.6" height="3.6"/><rect x="248.7" y="343.7" width="3.6" height="3.6"/><rect x="251.2" y="343.3" width="3.6" height="3.6"/><rect x="253.7" y="342.7" width="3.6" height="3.6"/><rect x="256.2" y="342.1" width="3.6" height="3.6"/><rect x="258.7" y="341.5" width="3.6" height="3.6"/><rect x="261.2" y="340.8" width="3.6" height="3.6"/><rect x="263.7" y="340" width="3.6" height="3.6"/><rect x="266.2" y="338.9" width="3.6" height="3.6"/><rect x="268.7" y="337.9" width="3.6" height="3.6"/><rect x="271.2" y="336.8" width="3.6" height="3.6"/><rect x="273.7" y="335.5" width="3.6" height="3.6"/><rect x="276.2" y="334.2" width="3.6" height="3.6"/><rect x="278.7" y="332.8" width="3.6" height="3.6"/><rect x="281.2" y="331.2" width="3.6" height="3.6"/><rect x="283.7" y="329.6" width="3.6" height="3.6"/><rect x="286.2" y="328" width="3.6" height="3.6"/><rect x="288.7" y="326.4" width="3.6" height="3.6"/><rect x="291.2" y="324.6" width="3.6" height="3.6"/><rect x="293.7" y="322.9" width="3.6" height="3.6"/><rect x="296.2" y="321.2" width="3.6" height="3.6"/><rect x="298.7" y="317.8" width="3.6" height="3.6"/><rect x="301.2" y="311.9" width="3.6" height="3.6"/><rect x="303.7" y="302.7" width="3.6" height="3.6"/><rect x="306.2" y="295" width="3.6" height="3.6"/><rect x="308.7" y="288.5" width="3.6" height="3.6"/><rect x="311.2" y="283.5" width="3.6" height="3.6"/><rect x="313.7" y="277" width="3.6" height="3.6"/><rect x="316.2" y="269.4" width="3.6" height="3.6"/><rect x="318.7" y="263.1" width="3.6" height="3.6"/><rect x="321.2" y="261.5" width="3.6" height="3.6"/><rect x="323.7" y="260.6" width="3.6" height="3.6"/><rect x="326.2" y="259.9" width="3.6" height="3.6"/><rect x="328.7" y="259.4" width="3.6" height="3.6"/><rect x="331.2" y="259.2" width="3.6" height="3.6"/><rect x="333.7" y="259" width="3.6" height="3.6"/><rect x="336.2" y="258.8" width="3.6" height="3.6"/><rect x="338.7" y="258.6" width="3.6" height="3.6"/><rect x="341.2" y="258.4" width="3.6" height="3.6"/><rect x="343.7" y="258.2" width="3.6" height="3.6"/><rect x="346.2" y="258" width="3.6" height="3.6"/><rect x="348.7" y="257.8" width="3.6" height="3.6"/><rect x="351.2" y="257.7" width="3.6" height="3.6"/><rect x="353.7" y="257.5" width="3.6" height="3.6"/><rect x="356.2" y="257.3" width="3.6" height="3.6"/><rect x="358.7" y="257.1" width="3.6" height="3.6"/><rect x="361.2" y="256.7" width="3.6" height="3.6"/><rect x="363.7" y="256.2" width="3.6" height="3.6"/><rect x="366.2" y="255.8" width="3.6" height="3.6"/><rect x="368.7" y="255.2" width="3.6" height="3.6"/><rect x="371.2" y="254.1" width="3.6" height="3.6"/><rect x="373.7" y="253.1" width="3.6" height="3.6"/><rect x="376.2" y="252.5" width="3.6" height="3.6"/><rect x="378.7" y="252" width="3.6" height="3.6"/><rect x="381.2" y="251.4" width="3.6" height="3.6"/><rect x="383.7" y="251.3" width="3.6" height="3.6"/><rect x="386.2" y="251.1" width="3.6" height="3.6"/><rect x="388.7" y="251" width="3.6" height="3.6"/><rect x="391.2" y="250.9" width="3.6" height="3.6"/><rect x="393.7" y="250.8" width="3.6" height="3.6"/><rect x="396.2" y="250.6" width="3.6" height="3.6"/><rect x="398.7" y="250.5" width="3.6" height="3.6"/><rect x="401.2" y="250.4" width="3.6" height="3.6"/><rect x="403.7" y="250.2" width="3.6" height="3.6"/><rect x="406.2" y="250.1" width="3.6" height="3.6"/><rect x="408.7" y="250" width="3.6" height="3.6"/><rect x="411.2" y="249.9" width="3.6" height="3.6"/><rect x="413.7" y="249.7" width="3.6" height="3.6"/><rect x="416.2" y="249.6" width="3.6" height="3.6"/><rect x="418.7" y="249.5" width="3.6" height="3.6"/><rect x="421.2" y="249.4" width="3.6" height="3.6"/><rect x="423.7" y="249.3" width="3.6" height="3.6"/><rect x="426.2" y="249.3" width="3.6" height="3.6"/><rect x="428.7" y="249.2" width="3.6" height="3.6"/><rect x="431.2" y="249.1" width="3.6" height="3.6"/><rect x="433.7" y="249.1" width="3.6" height="3.6"/><rect x="436.2" y="249" width="3.6" height="3.6"/><rect x="438.7" y="248.9" width="3.6" height="3.6"/><rect x="441.2" y="248.8" width="3.6" height="3.6"/><rect x="443.7" y="248.8" width="3.6" height="3.6"/><rect x="446.2" y="248.7" width="3.6" height="3.6"/><rect x="448.7" y="248.6" width="3.6" height="3.6"/><rect x="451.2" y="248.6" width="3.6" height="3.6"/><rect x="453.7" y="248.5" width="3.6" height="3.6"/><rect x="456.2" y="248.4" width="3.6" height="3.6"/><rect x="458.7" y="248.4" width="3.6" height="3.6"/><rect x="461.2" y="248.3" width="3.6" height="3.6"/><rect x="463.7" y="248.2" width="3.6" height="3.6"/><rect x="466.2" y="248.1" width="3.6" height="3.6"/><rect x="468.7" y="248.1" width="3.6" height="3.6"/><rect x="471.2" y="248" width="3.6" height="3.6"/><rect x="473.7" y="247.9" width="3.6" height="3.6"/><rect x="476.2" y="247.9" width="3.6" height="3.6"/><rect x="478.7" y="247.8" width="3.6" height="3.6"/><rect x="481.2" y="247.8" width="3.6" height="3.6"/><rect x="483.7" y="247.8" width="3.6" height="3.6"/><rect x="486.2" y="247.8" width="3.6" height="3.6"/><rect x="488.7" y="247.8" width="3.6" height="3.6"/><rect x="491.2" y="247.7" width="3.6" height="3.6"/><rect x="493.7" y="247.7" width="3.6" height="3.6"/><rect x="496.2" y="247.7" width="3.6" height="3.6"/><rect x="498.7" y="247.7" width="3.6" height="3.6"/><rect x="501.2" y="247.7" width="3.6" height="3.6"/><rect x="503.7" y="247.7" width="3.6" height="3.6"/><rect x="506.2" y="247.7" width="3.6" height="3.6"/><rect x="508.7" y="247.7" width="3.6" height="3.6"/><rect x="511.2" y="247.7" width="3.6" height="3.6"/><rect x="513.7" y="247.7" width="3.6" height="3.6"/><rect x="516.2" y="247.6" width="3.6" height="3.6"/><rect x="518.7" y="247.6" width="3.6" height="3.6"/><rect x="521.2" y="247.6" width="3.6" height="3.6"/><rect x="523.7" y="247.6" width="3.6" height="3.6"/><rect x="526.2" y="247.6" width="3.6" height="3.6"/><rect x="528.7" y="247.6" width="3.6" height="3.6"/><rect x="531.2" y="247.6" width="3.6" height="3.6"/><rect x="533.7" y="247.6" width="3.6" height="3.6"/><rect x="536.2" y="247.6" width="3.6" height="3.6"/><rect x="538.7" y="247.6" width="3.6" height="3.6"/><rect x="541.2" y="247.6" width="3.6" height="3.6"/><rect x="543.7" y="247.7" width="3.6" height="3.6"/><rect x="546.2" y="247.7" width="3.6" height="3.6"/><rect x="548.7" y="247.7" width="3.6" height="3.6"/><rect x="551.2" y="247.7" width="3.6" height="3.6"/><rect x="553.7" y="247.7" width="3.6" height="3.6"/><rect x="556.2" y="247.7" width="3.6" height="3.6"/><rect x="558.7" y="247.7" width="3.6" height="3.6"/><rect x="561.2" y="247.7" width="3.6" height="3.6"/><rect x="563.7" y="247.8" width="3.6" height="3.6"/><rect x="566.2" y="247.8" width="3.6" height="3.6"/><rect x="568.7" y="247.8" width="3.6" height="3.6"/><rect x="571.2" y="247.8" width="3.6" height="3.6"/><rect x="573.7" y="247.9" width="3.6" height="3.6"/><rect x="576.2" y="247.9" width="3.6" height="3.6"/><rect x="578.7" y="248" width="3.6" height="3.6"/><rect x="581.2" y="248.5" width="3.6" height="3.6"/><rect x="583.7" y="249.6" width="3.6" height="3.6"/><rect x="586.2" y="250.8" width="3.6" height="3.6"/><rect x="588.7" y="252" width="3.6" height="3.6"/><rect x="591.2" y="254.2" width="3.6" height="3.6"/><rect x="593.7" y="257.9" width="3.6" height="3.6"/><rect x="596.2" y="261.2" width="3.6" height="3.6"/><rect x="598.7" y="262.9" width="3.6" height="3.6"/><rect x="601.2" y="263.8" width="3.6" height="3.6"/><rect x="603.7" y="264" width="3.6" height="3.6"/><rect x="606.2" y="264.3" width="3.6" height="3.6"/><rect x="608.7" y="264.5" width="3.6" height="3.6"/><rect x="611.2" y="264.8" width="3.6" height="3.6"/><rect x="613.7" y="265" width="3.6" height="3.6"/><rect x="616.2" y="265.3" width="3.6" height="3.6"/><rect x="618.7" y="265.5" width="3.6" height="3.6"/><rect x="621.2" y="265.6" width="3.6" height="3.6"/><rect x="623.7" y="265.7" width="3.6" height="3.6"/><rect x="626.2" y="265.8" width="3.6" height="3.6"/><rect x="628.7" y="265.9" width="3.6" height="3.6"/><rect x="631.2" y="266" width="3.6" height="3.6"/><rect x="633.7" y="266.1" width="3.6" height="3.6"/><rect x="636.2" y="266.2" width="3.6" height="3.6"/><rect x="638.7" y="266.3" width="3.6" height="3.6"/><rect x="641.2" y="266.3" width="3.6" height="3.6"/><rect x="643.7" y="266.4" width="3.6" height="3.6"/><rect x="646.2" y="266.4" width="3.6" height="3.6"/><rect x="648.7" y="266.5" width="3.6" height="3.6"/><rect x="651.2" y="266.5" width="3.6" height="3.6"/><rect x="653.7" y="266.5" width="3.6" height="3.6"/><rect x="656.2" y="266.6" width="3.6" height="3.6"/><rect x="658.7" y="266.6" width="3.6" height="3.6"/><rect x="661.2" y="266.7" width="3.6" height="3.6"/><rect x="663.7" y="266.7" width="3.6" height="3.6"/><rect x="666.2" y="266.7" width="3.6" height="3.6"/><rect x="668.7" y="266.8" width="3.6" height="3.6"/><rect x="671.2" y="266.8" width="3.6" height="3.6"/><rect x="673.7" y="266.9" width="3.6" height="3.6"/><rect x="676.2" y="266.9" width="3.6" height="3.6"/><rect x="678.7" y="267" width="3.6" height="3.6"/><rect x="681.2" y="267" width="3.6" height="3.6"/></g>
<rect x="43" y="19.5" width="640" height="375" fill="none" stroke="#656565" stroke-width="1.3"/>
<line x1="43" y1="207" x2="683" y2="207" stroke="#858585" stroke-width="1.6"/>
<path d="M141.5 394.5v4 M141.5 19.5v3.5 M141.5 207v3 M252.3 394.5v4 M252.3 19.5v3.5 M252.3 207v3 M363.1 394.5v4 M363.1 19.5v3.5 M363.1 207v3 M473.9 394.5v4 M473.9 19.5v3.5 M473.9 207v3 M584.7 394.5v4 M584.7 19.5v3.5 M584.7 207v3 M86.1 394.5v2.2 M86.1 19.5v2 M86.1 207v2 M196.9 394.5v2.2 M196.9 19.5v2 M196.9 207v2 M307.7 394.5v2.2 M307.7 19.5v2 M307.7 207v2 M418.5 394.5v2.2 M418.5 19.5v2 M418.5 207v2 M529.3 394.5v2.2 M529.3 19.5v2 M529.3 207v2 M640.1 394.5v2.2 M640.1 19.5v2 M640.1 207v2 M43 59.6h-4 M43 113.2h-4 M43 166.8h-4 M43 32.8h-2.3 M43 86.4h-2.3 M43 140h-2.3 M43 193.6h-2.3 M43 248.5h-4 M43 300.8h-4 M43 353.1h-4 M43 222.3h-2.3 M43 274.6h-2.3 M43 327h-2.3 M43 379.2h-2.3" stroke="#656565" stroke-width="1.1" fill="none"/>
<g font-family="Liberation Serif, serif" fill="#111"><text x="36.6" y="64.7" font-size="14.8" text-anchor="end" font-weight="bold" >2</text><text x="36.6" y="118.3" font-size="14.8" text-anchor="end" font-weight="bold" >0</text><text x="36.6" y="171.9" font-size="14.8" text-anchor="end" font-weight="bold" >-2</text><text x="36.6" y="253.6" font-size="14.8" text-anchor="end" font-weight="bold" >10</text><text x="36.6" y="305.9" font-size="14.8" text-anchor="end" font-weight="bold" >0</text><text x="36.6" y="358.2" font-size="14.8" text-anchor="end" font-weight="bold" >-10</text><text x="141.8" y="411.6" font-size="14.8" text-anchor="middle" font-weight="bold" >0</text><text x="252.6" y="411.6" font-size="14.8" text-anchor="middle" font-weight="bold" >45</text><text x="363.4" y="411.6" font-size="14.8" text-anchor="middle" font-weight="bold" >90</text><text x="474.2" y="411.6" font-size="14.8" text-anchor="middle" font-weight="bold" >135</text><text x="585" y="411.6" font-size="14.8" text-anchor="middle" font-weight="bold" >180</text><text x="326.6" y="429.3" font-size="15.5" font-weight="bold" textLength="72.4" lengthAdjust="spacingAndGlyphs">Angle <tspan font-weight="normal">(</tspan><tspan font-style="italic">φ</tspan><tspan font-size="10" dy="6.3">H</tspan><tspan font-weight="normal" dy="-6.3">)</tspan></text><text transform="translate(14,111.5) rotate(-90)" font-size="16" font-weight="bold" text-anchor="middle" textLength="63" lengthAdjust="spacingAndGlyphs">PHR <tspan font-weight="normal">(Ω)</tspan></text><text transform="translate(14,297.3) rotate(-90)" font-size="16" font-weight="bold" text-anchor="middle" textLength="67.5" lengthAdjust="spacingAndGlyphs">PHR <tspan font-weight="normal">(mΩ)</tspan></text><text x="48.6" y="36.6" font-size="20.5" textLength="20" lengthAdjust="spacingAndGlyphs" >(a)</text><text x="47.4" y="226.6" font-size="20.5" textLength="21.6" lengthAdjust="spacingAndGlyphs" >(b)</text><text x="609.3" y="41.2" font-size="16.7" textLength="63" lengthAdjust="spacingAndGlyphs" >Device A</text><text x="609.3" y="310.8" font-size="16.7" textLength="63" lengthAdjust="spacingAndGlyphs" >Device B</text></g>
<g font-family="Liberation Serif, serif" fill="#111">
<text x="126" y="14.2" font-size="15" textLength="33.3" lengthAdjust="spacingAndGlyphs" >[110]</text><line x1="139.7" y1="2.8" x2="145.7" y2="2.8" stroke="#111" stroke-width="0.9"/>
<text x="347" y="14.2" font-size="15" textLength="33" lengthAdjust="spacingAndGlyphs" >[110]</text>
<text x="569.6" y="14.2" font-size="15" textLength="32.2" lengthAdjust="spacingAndGlyphs" >[110]</text><line x1="575.3" y1="2.8" x2="581.3" y2="2.8" stroke="#111" stroke-width="0.9"/>
<text x="222.7" y="32.8" font-size="13.8" textLength="28.9" lengthAdjust="spacingAndGlyphs" >[110]</text>
<text x="164.4" y="52.8" font-size="13.8" textLength="28.1" lengthAdjust="spacingAndGlyphs" >[010]</text>
<text x="279.4" y="52.8" font-size="13.8" textLength="28.2" lengthAdjust="spacingAndGlyphs" >[100]</text>
<text x="149.4" y="97.9" font-size="13.8" textLength="27.6" lengthAdjust="spacingAndGlyphs" >[110]</text><line x1="154.1" y1="87.4" x2="159.6" y2="87.4" stroke="#111" stroke-width="0.9"/>
<text x="293.8" y="97.9" font-size="13.8" textLength="25.6" lengthAdjust="spacingAndGlyphs" >[110]</text><line x1="303.8" y1="87.4" x2="309.4" y2="87.4" stroke="#111" stroke-width="0.9"/>
<text x="393" y="134.3" font-size="13.8" textLength="28.2" lengthAdjust="spacingAndGlyphs" >[110]</text><line x1="397.8" y1="123.8" x2="403.4" y2="123.8" stroke="#111" stroke-width="0.9"/>
<text x="539.6" y="134.3" font-size="13.8" textLength="28.8" lengthAdjust="spacingAndGlyphs" >[110]</text><line x1="551.2" y1="123.8" x2="556.8" y2="123.8" stroke="#111" stroke-width="0.9"/>
<text x="409.6" y="180.8" font-size="13.8" textLength="29.1" lengthAdjust="spacingAndGlyphs" >[100]</text><line x1="414.7" y1="170.3" x2="420.2" y2="170.3" stroke="#111" stroke-width="0.9"/>
<text x="522" y="180.8" font-size="13.8" textLength="29.2" lengthAdjust="spacingAndGlyphs" >[010]</text><line x1="533.8" y1="170.3" x2="539.4" y2="170.3" stroke="#111" stroke-width="0.9"/>
<text x="466.5" y="201.4" font-size="13.8" textLength="28.5" lengthAdjust="spacingAndGlyphs" >[110]</text><line x1="471.4" y1="190.9" x2="476.9" y2="190.9" stroke="#111" stroke-width="0.9"/><line x1="478" y1="190.9" x2="483.5" y2="190.9" stroke="#111" stroke-width="0.9"/>
</g>
<circle cx="235" cy="93.4" r="40.6" fill="none" stroke="#333" stroke-width="0.9"/><line x1="235" y1="93.4" x2="287" y2="93.4" stroke="#111" stroke-width="1.05" stroke-dasharray="3,2.3"/><polygon points="291.8,93.4 286,96.1 286,90.7" fill="#111"/><line x1="235" y1="93.4" x2="271.8" y2="56.6" stroke="#111" stroke-width="1.05" stroke-dasharray="3,2.3"/><polygon points="275.2,53.2 273,59.2 269.2,55.4" fill="#111"/><line x1="235" y1="93.4" x2="235" y2="41.4" stroke="#111" stroke-width="1.05" stroke-dasharray="3,2.3"/><polygon points="235,36.6 237.7,42.4 232.3,42.4" fill="#111"/><line x1="235" y1="93.4" x2="198.2" y2="56.6" stroke="#111" stroke-width="1.05" stroke-dasharray="3,2.3"/><polygon points="194.8,53.2 200.8,55.4 197,59.2" fill="#111"/><line x1="235" y1="93.4" x2="183" y2="93.4" stroke="#111" stroke-width="1.05" stroke-dasharray="3,2.3"/><polygon points="178.2,93.4 184,90.7 184,96.1" fill="#111"/><line x1="235" y1="93.4" x2="198.2" y2="130.2" stroke="#111" stroke-width="1.05" stroke-dasharray="3,2.3"/><polygon points="194.8,133.6 197,127.6 200.8,131.4" fill="#111"/><line x1="235" y1="93.4" x2="235" y2="145.4" stroke="#111" stroke-width="1.05" stroke-dasharray="3,2.3"/><polygon points="235,150.2 232.3,144.4 237.7,144.4" fill="#111"/><line x1="235" y1="93.4" x2="271.8" y2="130.2" stroke="#111" stroke-width="1.05" stroke-dasharray="3,2.3"/><polygon points="275.2,133.6 269.2,131.4 273,127.6" fill="#111"/><polygon points="264.3,93.4 264.2,92.5 264.1,91.5 263.8,90.6 263.5,89.7 263,88.8 262.5,88 261.8,87.2 261.1,86.5 260.2,85.8 259.3,85.2 258.3,84.6 257.2,84.2 256.1,83.8 254.8,83.6 253.6,83.4 252.2,83.4 250.8,83.5 249.4,83.7 248,84 246.6,84.4 245.2,84.9 243.9,85.4 242.7,86 241.7,86.5 240.8,86.9 240.1,87.3 239.5,87.6 239,87.9 238.6,88.1 238.2,88.2 237.9,88.4 237.6,88.5 237.3,88.6 237,88.7 236.8,88.8 236.6,88.8 236.4,88.9 236.2,88.9 236,88.9 235.8,89 235.7,89 235.5,89 235.3,89 235.2,89 235,89 234.8,89 234.7,89 234.5,89 234.3,89 234.2,89 234,88.9 233.8,88.9 233.6,88.9 233.4,88.8 233.2,88.8 233,88.7 232.7,88.6 232.4,88.5 232.1,88.4 231.8,88.2 231.4,88.1 231,87.9 230.5,87.6 229.9,87.3 229.2,86.9 228.3,86.5 227.3,86 226.1,85.4 224.8,84.9 223.4,84.4 222,84 220.6,83.7 219.2,83.5 217.8,83.4 216.4,83.4 215.2,83.6 213.9,83.8 212.8,84.2 211.7,84.6 210.7,85.2 209.8,85.8 208.9,86.5 208.2,87.2 207.5,88 207,88.8 206.5,89.7 206.2,90.6 205.9,91.5 205.8,92.5 205.7,93.4 205.8,94.3 205.9,95.3 206.2,96.2 206.5,97.1 207,98 207.5,98.8 208.2,99.6 208.9,100.3 209.8,101 210.7,101.6 211.7,102.2 212.8,102.6 213.9,103 215.2,103.2 216.4,103.4 217.8,103.4 219.2,103.3 220.6,103.1 222,102.8 223.4,102.4 224.8,101.9 226.1,101.4 227.3,100.8 228.3,100.3 229.2,99.9 229.9,99.5 230.5,99.2 231,98.9 231.4,98.7 231.8,98.6 232.1,98.4 232.4,98.3 232.7,98.2 233,98.1 233.2,98 233.4,98 233.6,97.9 233.8,97.9 234,97.9 234.2,97.8 234.3,97.8 234.5,97.8 234.7,97.8 234.8,97.8 235,97.8 235.2,97.8 235.3,97.8 235.5,97.8 235.7,97.8 235.8,97.8 236,97.9 236.2,97.9 236.4,97.9 236.6,98 236.8,98 237,98.1 237.3,98.2 237.6,98.3 237.9,98.4 238.2,98.6 238.6,98.7 239,98.9 239.5,99.2 240.1,99.5 240.8,99.9 241.7,100.3 242.7,100.8 243.9,101.4 245.2,101.9 246.6,102.4 248,102.8 249.4,103.1 250.8,103.3 252.2,103.4 253.6,103.4 254.8,103.2 256.1,103 257.2,102.6 258.3,102.2 259.3,101.6 260.2,101 261.1,100.3 261.8,99.6 262.5,98.8 263,98 263.5,97.1 263.8,96.2 264.1,95.3 264.2,94.3" fill="none" stroke="#111" stroke-width="2"/><polygon points="245.9,48.6 230.3,48.6 230.3,46.4 224.1,49.7 230.3,53 230.3,50.8 245.9,50.8" fill="#1515e0"/><polygon points="211.5,52.8 199.9,64.3 198.4,62.8 196.3,69.5 203,67.5 201.5,65.9 213.1,54.4" fill="#1515e0"/><polygon points="190.3,82 190.3,98.1 188.1,98.1 191.4,104.3 194.7,98.1 192.5,98.1 192.5,82" fill="#1515e0"/><polygon points="195.5,118.3 205.5,128.3 204,129.8 210.7,131.9 208.6,125.2 207.1,126.7 197.1,116.7" fill="#1515e0"/><polygon points="225.1,138.7 241.3,138.7 241.3,140.9 247.5,137.6 241.3,134.3 241.3,136.5 225.1,136.5" fill="#1515e0"/><polygon points="259.5,132.7 270.2,122.6 271.7,124.2 274,117.5 267.2,119.3 268.7,120.9 257.9,131.1" fill="#1515e0"/><polygon points="281.5,104.7 281.5,88.5 283.7,88.5 280.4,82.3 277.1,88.5 279.3,88.5 279.3,104.7" fill="#1515e0"/><polygon points="275.4,68.7 265.4,58.2 267,56.7 260.3,54.5 262.2,61.3 263.8,59.7 273.8,70.3" fill="#1515e0"/>
<circle cx="478.9" cy="129.3" r="40.3" fill="none" stroke="#333" stroke-width="0.9"/><line x1="478.9" y1="129.3" x2="530.9" y2="129.3" stroke="#111" stroke-width="1.05" stroke-dasharray="3,2.3"/><polygon points="535.7,129.3 529.9,132 529.9,126.6" fill="#111"/><line x1="478.9" y1="129.3" x2="515.7" y2="92.5" stroke="#111" stroke-width="1.05" stroke-dasharray="3,2.3"/><polygon points="519.1,89.1 516.9,95.1 513.1,91.3" fill="#111"/><line x1="478.9" y1="129.3" x2="478.9" y2="77.3" stroke="#111" stroke-width="1.05" stroke-dasharray="3,2.3"/><polygon points="478.9,72.5 481.6,78.3 476.2,78.3" fill="#111"/><line x1="478.9" y1="129.3" x2="442.1" y2="92.5" stroke="#111" stroke-width="1.05" stroke-dasharray="3,2.3"/><polygon points="438.7,89.1 444.7,91.3 440.9,95.1" fill="#111"/><line x1="478.9" y1="129.3" x2="426.9" y2="129.3" stroke="#111" stroke-width="1.05" stroke-dasharray="3,2.3"/><polygon points="422.1,129.3 427.9,126.6 427.9,132" fill="#111"/><line x1="478.9" y1="129.3" x2="442.1" y2="166.1" stroke="#111" stroke-width="1.05" stroke-dasharray="3,2.3"/><polygon points="438.7,169.5 440.9,163.5 444.7,167.3" fill="#111"/><line x1="478.9" y1="129.3" x2="478.9" y2="181.3" stroke="#111" stroke-width="1.05" stroke-dasharray="3,2.3"/><polygon points="478.9,186.1 476.2,180.3 481.6,180.3" fill="#111"/><line x1="478.9" y1="129.3" x2="515.7" y2="166.1" stroke="#111" stroke-width="1.05" stroke-dasharray="3,2.3"/><polygon points="519.1,169.5 513.1,167.3 516.9,163.5" fill="#111"/><polygon points="508.2,129.3 508.1,128.4 508,127.4 507.7,126.5 507.4,125.6 506.9,124.7 506.4,123.9 505.7,123.1 505,122.4 504.1,121.7 503.2,121.1 502.2,120.5 501.1,120.1 500,119.7 498.7,119.5 497.5,119.3 496.1,119.3 494.7,119.4 493.3,119.6 491.9,119.9 490.5,120.3 489.1,120.8 487.8,121.3 486.6,121.9 485.6,122.4 484.7,122.8 484,123.2 483.4,123.5 482.9,123.8 482.5,124 482.1,124.1 481.8,124.3 481.5,124.4 481.2,124.5 480.9,124.6 480.7,124.7 480.5,124.7 480.3,124.8 480.1,124.8 479.9,124.8 479.7,124.9 479.6,124.9 479.4,124.9 479.2,124.9 479.1,124.9 478.9,124.9 478.7,124.9 478.6,124.9 478.4,124.9 478.2,124.9 478.1,124.9 477.9,124.8 477.7,124.8 477.5,124.8 477.3,124.7 477.1,124.7 476.9,124.6 476.6,124.5 476.3,124.4 476,124.3 475.7,124.1 475.3,124 474.9,123.8 474.4,123.5 473.8,123.2 473.1,122.8 472.2,122.4 471.2,121.9 470,121.3 468.7,120.8 467.3,120.3 465.9,119.9 464.5,119.6 463.1,119.4 461.7,119.3 460.3,119.3 459.1,119.5 457.8,119.7 456.7,120.1 455.6,120.5 454.6,121.1 453.7,121.7 452.8,122.4 452.1,123.1 451.4,123.9 450.9,124.7 450.4,125.6 450.1,126.5 449.8,127.4 449.7,128.4 449.6,129.3 449.7,130.2 449.8,131.2 450.1,132.1 450.4,133 450.9,133.9 451.4,134.7 452.1,135.5 452.8,136.2 453.7,136.9 454.6,137.5 455.6,138.1 456.7,138.5 457.8,138.9 459.1,139.1 460.3,139.3 461.7,139.3 463.1,139.2 464.5,139 465.9,138.7 467.3,138.3 468.7,137.8 470,137.3 471.2,136.7 472.2,136.2 473.1,135.8 473.8,135.4 474.4,135.1 474.9,134.8 475.3,134.6 475.7,134.5 476,134.3 476.3,134.2 476.6,134.1 476.9,134 477.1,133.9 477.3,133.9 477.5,133.8 477.7,133.8 477.9,133.8 478.1,133.7 478.2,133.7 478.4,133.7 478.6,133.7 478.7,133.7 478.9,133.7 479.1,133.7 479.2,133.7 479.4,133.7 479.6,133.7 479.7,133.7 479.9,133.8 480.1,133.8 480.3,133.8 480.5,133.9 480.7,133.9 480.9,134 481.2,134.1 481.5,134.2 481.8,134.3 482.1,134.5 482.5,134.6 482.9,134.8 483.4,135.1 484,135.4 484.7,135.8 485.6,136.2 486.6,136.7 487.8,137.3 489.1,137.8 490.5,138.3 491.9,138.7 493.3,139 494.7,139.2 496.1,139.3 497.5,139.3 498.7,139.1 500,138.9 501.1,138.5 502.2,138.1 503.2,137.5 504.1,136.9 505,136.2 505.7,135.5 506.4,134.7 506.9,133.9 507.4,133 507.7,132.1 508,131.2 508.1,130.2" fill="none" stroke="#111" stroke-width="2"/><polygon points="485.8,82.1 474.1,82.1 474.1,79.9 467.9,83.2 474.1,86.5 474.1,84.3 485.8,84.3" fill="#ee1515"/><polygon points="433.4,139.9 433.4,125.5 435.6,125.5 432.3,119.3 429,125.5 431.2,125.5 431.2,139.9" fill="#ee1515"/><polygon points="525.7,119.3 525.7,133.7 523.5,133.7 526.8,139.9 530.1,133.7 527.9,133.7 527.9,119.3" fill="#ee1515"/><polygon points="469.3,177.4 485,177.4 485,179.6 491.2,176.3 485,173 485,175.2 469.3,175.2" fill="#ee1515"/><polygon points="459.1,106.2 448.6,96.7 450.1,95 443.3,93.3 445.7,99.9 447.2,98.3 457.7,107.8" fill="#ee1515"/><polygon points="515.1,93.3 503,105.9 501.4,104.3 499.5,111.1 506.2,108.9 504.6,107.4 516.7,94.9" fill="#ee1515"/><polygon points="442.6,166.7 455.7,155.6 457.1,157.3 459.7,150.8 452.8,152.3 454.3,154 441.2,165.1" fill="#ee1515"/><polygon points="500.1,151.6 512,162.5 510.5,164.1 517.3,165.9 515,159.3 513.5,160.9 501.5,150" fill="#ee1515"/>
<polygon points="99,26.2 112.4,39.2 110.2,41.4 119.5,41.9 118.7,32.6 116.6,34.9 103.2,21.8" fill="#ff0a0a"/>
<polygon points="166.4,204.2 179.7,191.4 181.9,193.6 182.7,184.4 173.4,184.8 175.6,187.1 162.2,199.8" fill="#ff0a0a"/>
<polygon points="365.2,97.6 365.2,78.9 368.3,78.9 362.2,71.9 356.1,78.9 359.2,78.9 359.2,97.6" fill="#ff0a0a"/>
<polygon points="568.3,39.3 554.9,26.2 557.1,23.9 547.8,23.4 548.5,32.7 550.7,30.4 564.1,43.5" fill="#ff0a0a"/>
<polygon points="629.1,182.5 616,195.4 613.8,193.1 613.1,202.4 622.4,201.8 620.2,199.6 633.3,186.7" fill="#ff0a0a"/>
<polygon points="76.3,240.6 94.7,222.2 98.3,225.8 98.4,211.5 84.1,211.6 87.7,215.2 69.3,233.6" fill="none" stroke="#1414d8" stroke-width="1.8" stroke-dasharray="4.2,2.6" stroke-linejoin="miter"/>
<polygon points="74.2,234.9 84.6,244.4 82.8,246.4 90.2,246.4 89.5,239 87.7,241 77.4,231.5" fill="none" stroke="#ee3030" stroke-width="1.3" stroke-linejoin="miter"/>
<polygon points="160.7,240.3 179.1,221.9 182.7,225.5 182.8,211.2 168.5,211.3 172.1,214.9 153.7,233.3" fill="none" stroke="#1414d8" stroke-width="1.8" stroke-dasharray="4.2,2.6" stroke-linejoin="miter"/>
<polygon points="160.5,234.7 170.6,225.7 172.4,227.7 173.2,220.3 165.8,220.2 167.6,222.3 157.5,231.3" fill="none" stroke="#ee3030" stroke-width="1.3" stroke-linejoin="miter"/>
<polygon points="343.2,240.3 361.6,221.9 365.2,225.5 365.3,211.2 351,211.3 354.6,214.9 336.2,233.3" fill="none" stroke="#1414d8" stroke-width="1.8" stroke-dasharray="4.2,2.6" stroke-linejoin="miter"/>
<polygon points="346.6,233.7 346.6,220.7 349.3,220.7 344.3,215.2 339.3,220.7 342,220.7 342,233.7" fill="none" stroke="#ee3030" stroke-width="1.3" stroke-linejoin="miter"/>
<polygon points="541.2,240 559.6,221.6 563.2,225.2 563.3,210.9 549,211 552.6,214.6 534.2,233" fill="none" stroke="#1414d8" stroke-width="1.8" stroke-linejoin="miter"/>
<polygon points="543.3,230.4 533.4,221.5 534.8,219.9 528.1,219.6 529.1,226.3 530.5,224.7 540.3,233.6" fill="#ff1010"/>
<polygon points="626.1,240 644.5,221.6 648.1,225.2 648.2,210.9 633.9,211 637.5,214.6 619.1,233" fill="none" stroke="#1414d8" stroke-width="1.8" stroke-linejoin="miter"/>
<polygon points="625.8,230.3 615.8,238.8 614.4,237.2 613.2,243.8 619.9,243.7 618.6,242.1 628.6,233.7" fill="#ff1010"/>
<polygon points="71.8,366.9 90.2,385.3 86.6,388.9 100.9,389 100.8,374.7 97.2,378.3 78.8,359.9" fill="#fff" stroke="#1414d8" stroke-width="1.8" stroke-linejoin="miter"/>
<polygon points="76.7,368.6 86.1,377.1 84.7,378.7 91.4,379 90.4,372.3 89,373.9 79.7,365.4" fill="#ff1010"/>
<polygon points="177.7,366.7 196.1,385.1 192.5,388.7 206.8,388.8 206.7,374.5 203.1,378.1 184.7,359.7" fill="none" stroke="#1414d8" stroke-width="1.8" stroke-linejoin="miter"/>
<polygon points="187.4,369.1 196.3,359.8 197.8,361.2 198.3,354.5 191.6,355.3 193.1,356.7 184.2,366.1" fill="#ff1010"/>
<polygon points="343.5,315.9 361.9,297.5 365.5,301.1 365.6,286.8 351.3,286.9 354.9,290.5 336.5,308.9" fill="#fff" stroke="#1414d8" stroke-width="1.8" stroke-linejoin="miter"/>
<polygon points="346.5,309.7 346.5,297.1 348.6,297.1 344.3,291.9 340,297.1 342.1,297.1 342.1,309.7" fill="#ff1010"/>
<polygon points="532.5,366.4 550.9,384.8 547.3,388.4 561.6,388.5 561.5,374.2 557.9,377.8 539.5,359.4" fill="none" stroke="#1414d8" stroke-width="1.8" stroke-dasharray="4.2,2.6" stroke-linejoin="miter"/>
<polygon points="542.9,367.3 533.7,358 535.6,356.1 528.2,355.7 528.5,363.1 530.4,361.2 539.7,370.5" fill="none" stroke="#ee3030" stroke-width="1.3" stroke-linejoin="miter"/>
<polygon points="646.4,366.6 664.8,385 661.2,388.6 675.5,388.7 675.4,374.4 671.8,378 653.4,359.6" fill="none" stroke="#1414d8" stroke-width="1.8" stroke-dasharray="4.2,2.6" stroke-linejoin="miter"/>
<polygon points="653.2,366.5 643.8,375.4 642,373.4 641.4,380.8 648.8,380.7 647,378.7 656.4,369.9" fill="none" stroke="#ee3030" stroke-width="1.3" stroke-linejoin="miter"/>
<line x1="92.5" y1="232.2" x2="103.4" y2="243.7" stroke="#111" stroke-width="1.0"/><polygon points="107.3,247.8 100.4,245.2 105.1,240.8" fill="#111"/>
<line x1="170.2" y1="235.9" x2="170.2" y2="254.8" stroke="#111" stroke-width="1.0"/><polygon points="170.2,260.4 167,253.8 173.4,253.8" fill="#111"/>
<line x1="362.3" y1="231.5" x2="362.3" y2="242.6" stroke="#111" stroke-width="1.0"/><polygon points="362.3,248.2 359.1,241.6 365.5,241.6" fill="#111"/>
<line x1="362.3" y1="283.8" x2="362.3" y2="268" stroke="#111" stroke-width="1.0"/><polygon points="362.3,262.4 365.5,269 359.1,269" fill="#111"/>
<line x1="554.4" y1="231.2" x2="558" y2="239.9" stroke="#111" stroke-width="1.0"/><polygon points="560.2,245.1 554.7,240.2 560.6,237.8" fill="#111"/>
<line x1="615.4" y1="246.4" x2="615.4" y2="257.9" stroke="#111" stroke-width="1.0"/><polygon points="615.4,263.5 612.2,256.9 618.6,256.9" fill="#111"/>
<line x1="95" y1="368.7" x2="106.1" y2="348.4" stroke="#111" stroke-width="1.0"/><polygon points="108.8,343.5 108.4,350.8 102.8,347.8" fill="#111"/>
<line x1="178.9" y1="364.5" x2="172.9" y2="358.2" stroke="#111" stroke-width="1.0"/><polygon points="169,354.1 175.9,356.7 171.2,361.1" fill="#111"/>
<line x1="560.3" y1="373.9" x2="560.3" y2="348.8" stroke="#111" stroke-width="1.0"/><polygon points="560.3,343.2 563.5,349.8 557.1,349.8" fill="#111"/>
<line x1="638.6" y1="368.6" x2="626" y2="358.8" stroke="#111" stroke-width="1.0"/><polygon points="621.6,355.3 628.8,356.8 624.8,361.9" fill="#111"/>
<path d="M217.7,340.0 C220.6,339.9 229.3,339.8 235.0,339.2 C240.7,338.6 246.1,338.2 252.0,336.7 C257.9,335.2 265.1,333.2 270.3,330.3 C275.5,327.4 279.5,323.4 283.1,319.3 C286.8,315.2 289.5,310.5 292.2,305.6 C294.9,300.7 297.8,293.8 299.5,290.1 C301.2,286.4 301.8,284.6 302.3,283.5" fill="none" stroke="#111" stroke-width="2"/>
<line x1="299.5" y1="284.8" x2="300.5" y2="283.6" stroke="#111" stroke-width="1"/><polygon points="304.3,278.9 302.4,286.4 297.3,282.2" fill="#111"/>
<path d="M517.7,327.8 C513.1,327.8 497.7,327.7 490.0,327.6 C482.3,327.5 478.1,327.7 471.7,327.2 C465.2,326.7 457.1,325.9 451.3,324.8 C445.5,323.7 441.4,322.5 437.0,320.7 C432.6,318.9 428.4,316.7 424.7,313.9 C420.9,311.1 417.4,307.1 414.5,303.7 C411.6,300.3 409.4,296.5 407.4,293.5 C405.4,290.5 403.4,287.1 402.6,285.8" fill="none" stroke="#111" stroke-width="2" stroke-dasharray="6,3.6"/>
<line x1="403.2" y1="286.8" x2="401.5" y2="284.1" stroke="#111" stroke-width="1"/><polygon points="398.4,279 404.9,283.2 399.3,286.7" fill="#111"/>
<rect x="47" y="134" width="79" height="66" fill="#fff"/>
<line x1="49.1" y1="142.8" x2="78.5" y2="142.8" stroke="#ff3030" stroke-width="1"/><circle cx="63.8" cy="142.8" r="2.7" fill="#ff1010" stroke="#ff1010" stroke-width="1"/><text x="82.2" y="147.1" font-size="13" textLength="48.7" lengthAdjust="spacingAndGlyphs" font-family="Liberation Serif, serif" fill="#111">+ I CCW</text>
<line x1="49.1" y1="159.3" x2="78.5" y2="159.3" stroke="#ff7070" stroke-width="1"/><circle cx="63.8" cy="159.3" r="2.5" fill="#fff" stroke="#ff3030" stroke-width="1"/><text x="82.2" y="163.6" font-size="13" textLength="38.6" lengthAdjust="spacingAndGlyphs" font-family="Liberation Serif, serif" fill="#111">+ I CW</text>
<line x1="49.1" y1="175.9" x2="78.5" y2="175.9" stroke="#3030f0" stroke-width="1"/><rect x="61.4" y="173.5" width="4.8" height="4.8" fill="#1010e0" stroke="#1010e0" stroke-width="1"/><text x="82.2" y="180.2" font-size="13" textLength="47.1" lengthAdjust="spacingAndGlyphs" font-family="Liberation Serif, serif" fill="#111">– I CCW</text>
<line x1="49.1" y1="192.3" x2="78.5" y2="192.3" stroke="#6060e0" stroke-width="1"/><rect x="61.5" y="190" width="4.6" height="4.6" fill="#fff" stroke="#2020e0" stroke-width="1"/><text x="82.2" y="196.6" font-size="13" textLength="38.6" lengthAdjust="spacingAndGlyphs" font-family="Liberation Serif, serif" fill="#111">– I CW</text>
<line x1="50.2" y1="271.8" x2="79.3" y2="271.8" stroke="#ff7070" stroke-width="1"/><circle cx="64.9" cy="271.8" r="1.9" fill="#fff" stroke="#ff4040" stroke-width="1"/><text x="83.2" y="276.1" font-size="13" textLength="38.5" lengthAdjust="spacingAndGlyphs" font-family="Liberation Serif, serif" fill="#111">+ I CW</text>
<line x1="50.2" y1="288" x2="79.3" y2="288" stroke="#6060e8" stroke-width="1"/><rect x="63" y="286.1" width="3.8" height="3.8" fill="#fff" stroke="#2020e0" stroke-width="1"/><text x="83.2" y="292.3" font-size="13" textLength="38.5" lengthAdjust="spacingAndGlyphs" font-family="Liberation Serif, serif" fill="#111">– I CW</text>
<line x1="50.2" y1="304.6" x2="79.3" y2="304.6" stroke="#ff3030" stroke-width="1"/><circle cx="64.9" cy="304.6" r="2.1" fill="#ff1010" stroke="#ff1010" stroke-width="1"/><text x="83.2" y="308.9" font-size="13" textLength="47.9" lengthAdjust="spacingAndGlyphs" font-family="Liberation Serif, serif" fill="#111">+ I CCW</text>
<line x1="50.2" y1="320.5" x2="79.3" y2="320.5" stroke="#3030f0" stroke-width="1"/><rect x="62.8" y="318.4" width="4.2" height="4.2" fill="#1010e0" stroke="#1010e0" stroke-width="1"/><text x="83.2" y="324.8" font-size="13" textLength="47.9" lengthAdjust="spacingAndGlyphs" font-family="Liberation Serif, serif" fill="#111">– I CCW</text>
</svg></body></html>
